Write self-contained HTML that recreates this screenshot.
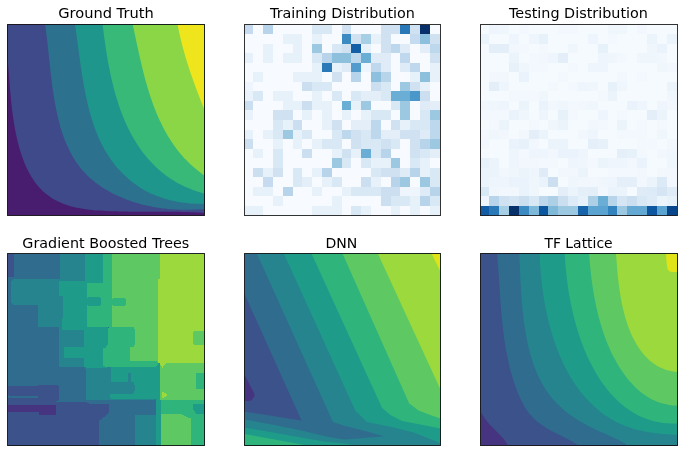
<!DOCTYPE html>
<html><head><meta charset="utf-8"><title>Model comparison</title>
<style>html,body{margin:0;padding:0;background:#fff;}body{width:684px;height:452px;overflow:hidden;}svg{display:block;}</style>
</head><body>
<svg width="684" height="452" viewBox="0 0 684 452">
<rect width="684" height="452" fill="#fff"/>
<defs><clipPath id="cgt"><rect x="7.5" y="24.5" width="197" height="191"/></clipPath><clipPath id="ctr"><rect x="244.5" y="24.5" width="196" height="191"/></clipPath><clipPath id="cte"><rect x="480.5" y="24.5" width="197" height="191"/></clipPath><clipPath id="cgbt"><rect x="7.5" y="253.5" width="197" height="192"/></clipPath><clipPath id="cdnn"><rect x="244.5" y="253.5" width="196" height="192"/></clipPath><clipPath id="ctfl"><rect x="480.5" y="253.5" width="197" height="192"/></clipPath></defs>
<g clip-path="url(#cgt)"><rect x="6.5" y="23.5" width="199" height="193" fill="#481c6e"/><path fill="#3e4a89" d="M7.5,57.5C7.54,58 7.68,59.51 7.77,60.52C7.85,61.52 7.94,62.52 8.02,63.53C8.1,64.53 8.18,65.53 8.26,66.53C8.34,67.53 8.42,68.54 8.49,69.54C8.57,70.54 8.65,71.54 8.73,72.54C8.8,73.54 8.88,74.54 8.95,75.54C9.03,76.54 9.1,77.55 9.18,78.55C9.26,79.55 9.33,80.55 9.41,81.55C9.49,82.55 9.56,83.55 9.64,84.55C9.72,85.56 9.8,86.56 9.88,87.56C9.96,88.56 10.05,89.57 10.13,90.57C10.22,91.58 10.3,92.58 10.39,93.59C10.48,94.59 10.57,95.6 10.67,96.61C10.76,97.61 10.86,98.62 10.96,99.63C11.06,100.64 11.16,101.65 11.26,102.66C11.37,103.67 11.48,104.68 11.59,105.7C11.7,106.71 11.82,107.73 11.94,108.74C12.06,109.76 12.19,110.78 12.32,111.8C12.45,112.82 12.58,113.84 12.72,114.86C12.86,115.88 13,116.91 13.15,117.93C13.3,118.96 13.46,119.99 13.62,121.02C13.78,122.05 13.95,123.08 14.12,124.11C14.29,125.15 14.47,126.18 14.65,127.22C14.84,128.26 15.03,129.3 15.23,130.34C15.43,131.37 15.63,132.41 15.84,133.45C16.05,134.49 16.27,135.53 16.5,136.57C16.73,137.6 16.96,138.64 17.2,139.67C17.45,140.71 17.7,141.74 17.96,142.77C18.22,143.79 18.48,144.82 18.76,145.84C19.04,146.86 19.32,147.88 19.61,148.9C19.91,149.91 20.21,150.92 20.52,151.92C20.84,152.92 21.16,153.92 21.49,154.91C21.82,155.91 22.17,156.89 22.52,157.87C22.87,158.85 23.23,159.82 23.61,160.78C23.98,161.75 24.36,162.7 24.76,163.65C25.15,164.6 25.56,165.54 25.98,166.46C26.4,167.39 26.82,168.31 27.27,169.22C27.71,170.13 28.16,171.03 28.62,171.92C29.09,172.8 29.57,173.68 30.06,174.54C30.55,175.41 31.05,176.26 31.56,177.1C32.08,177.94 32.61,178.76 33.15,179.58C33.69,180.39 34.25,181.19 34.81,181.97C35.38,182.76 35.97,183.53 36.56,184.28C37.16,185.04 37.77,185.78 38.39,186.5C39.02,187.22 39.66,187.93 40.31,188.62C40.97,189.31 41.64,189.99 42.32,190.64C43.01,191.3 43.71,191.93 44.42,192.55C45.14,193.17 45.87,193.78 46.61,194.36C47.35,194.95 48.11,195.51 48.88,196.06C49.65,196.61 50.44,197.15 51.23,197.66C52.03,198.18 52.84,198.67 53.66,199.15C54.48,199.63 55.31,200.1 56.16,200.54C57,200.99 57.86,201.42 58.73,201.83C59.59,202.24 60.47,202.63 61.36,203.01C62.25,203.39 63.15,203.75 64.05,204.09C64.96,204.44 65.88,204.76 66.8,205.07C67.73,205.38 68.66,205.68 69.61,205.95C70.55,206.23 71.5,206.49 72.46,206.74C73.42,206.98 74.38,207.22 75.35,207.43C76.33,207.65 77.31,207.86 78.29,208.05C79.28,208.24 80.27,208.42 81.27,208.59C82.27,208.76 83.27,208.91 84.28,209.06C85.29,209.21 86.3,209.34 87.32,209.47C88.34,209.6 89.36,209.72 90.38,209.82C91.41,209.93 92.44,210.04 93.47,210.13C94.5,210.22 95.54,210.31 96.58,210.39C97.62,210.47 98.66,210.55 99.7,210.62C100.74,210.69 101.78,210.75 102.83,210.82C103.87,210.88 104.92,210.93 105.97,210.99C107.02,211.04 108.06,211.09 109.11,211.14C110.16,211.18 111.21,211.23 112.26,211.26C113.31,211.3 114.37,211.34 115.42,211.37C116.47,211.41 117.52,211.44 118.58,211.46C119.63,211.49 120.68,211.52 121.74,211.54C122.79,211.56 123.85,211.58 124.9,211.6C125.96,211.61 127.01,211.63 128.07,211.64C129.12,211.66 130.17,211.67 131.23,211.68C132.28,211.69 133.34,211.69 134.39,211.7C135.44,211.71 136.5,211.71 137.55,211.71C138.6,211.72 139.65,211.72 140.71,211.72C141.76,211.72 142.81,211.72 143.86,211.72C144.91,211.72 145.96,211.72 147,211.72C148.05,211.72 149.1,211.72 150.14,211.72C151.19,211.72 152.24,211.71 153.28,211.71C154.32,211.71 155.36,211.71 156.4,211.71C157.44,211.71 158.48,211.71 159.52,211.71C160.56,211.71 161.59,211.71 162.63,211.71C163.66,211.71 164.69,211.71 165.72,211.71C166.75,211.72 167.78,211.72 168.8,211.73C169.83,211.73 170.85,211.74 171.87,211.75C172.89,211.76 173.91,211.77 174.93,211.78C175.94,211.8 176.96,211.81 177.97,211.83C178.98,211.84 179.99,211.86 180.99,211.88C182,211.9 183,211.93 184,211.95C185,211.98 186,212.01 186.99,212.04C187.98,212.08 188.97,212.11 189.96,212.15C190.95,212.19 191.93,212.23 192.91,212.27C193.89,212.32 194.87,212.37 195.84,212.42C196.82,212.47 197.79,212.53 198.75,212.59C199.72,212.65 200.68,212.71 201.64,212.78C202.59,212.85 204.02,212.96 204.5,213L204.5,24.5L7.5,24.5Z"/><path fill="#2c728e" d="M45,24.5C45.07,24.97 45.29,26.37 45.43,27.32C45.57,28.26 45.71,29.21 45.84,30.16C45.98,31.11 46.11,32.07 46.24,33.03C46.36,33.99 46.49,34.96 46.61,35.93C46.74,36.9 46.86,37.87 46.97,38.85C47.09,39.82 47.21,40.81 47.32,41.79C47.44,42.77 47.55,43.76 47.66,44.75C47.78,45.75 47.89,46.74 48,47.74C48.11,48.74 48.22,49.74 48.32,50.74C48.43,51.74 48.54,52.75 48.65,53.76C48.75,54.77 48.86,55.78 48.97,56.8C49.07,57.81 49.18,58.83 49.29,59.84C49.39,60.86 49.5,61.88 49.61,62.9C49.72,63.93 49.83,64.95 49.94,65.98C50.05,67 50.16,68.03 50.27,69.06C50.38,70.09 50.5,71.12 50.61,72.15C50.73,73.18 50.85,74.21 50.97,75.24C51.09,76.28 51.21,77.31 51.33,78.34C51.46,79.38 51.58,80.41 51.71,81.45C51.84,82.48 51.97,83.52 52.11,84.55C52.24,85.59 52.38,86.62 52.52,87.66C52.66,88.7 52.81,89.73 52.96,90.77C53.11,91.8 53.26,92.83 53.42,93.87C53.57,94.9 53.74,95.94 53.9,96.97C54.07,98 54.24,99.03 54.41,100.06C54.59,101.09 54.77,102.12 54.95,103.15C55.14,104.18 55.33,105.2 55.52,106.23C55.72,107.25 55.92,108.27 56.13,109.3C56.33,110.32 56.54,111.34 56.76,112.35C56.98,113.37 57.21,114.38 57.44,115.4C57.67,116.41 57.91,117.42 58.15,118.43C58.4,119.43 58.65,120.44 58.91,121.44C59.17,122.44 59.44,123.44 59.71,124.43C59.98,125.43 60.27,126.42 60.55,127.41C60.84,128.39 61.14,129.37 61.45,130.35C61.75,131.33 62.07,132.3 62.39,133.27C62.71,134.24 63.04,135.2 63.38,136.16C63.72,137.12 64.07,138.07 64.43,139.01C64.79,139.96 65.15,140.9 65.53,141.83C65.91,142.76 66.29,143.69 66.69,144.61C67.09,145.53 67.49,146.44 67.91,147.35C68.33,148.25 68.75,149.15 69.19,150.04C69.63,150.93 70.08,151.81 70.54,152.69C71,153.56 71.47,154.42 71.95,155.28C72.43,156.14 72.92,156.98 73.43,157.82C73.93,158.66 74.45,159.49 74.98,160.31C75.5,161.13 76.04,161.94 76.6,162.74C77.15,163.54 77.71,164.32 78.29,165.1C78.87,165.88 79.46,166.65 80.06,167.4C80.67,168.16 81.28,168.91 81.91,169.64C82.54,170.38 83.18,171.1 83.83,171.81C84.48,172.53 85.15,173.23 85.82,173.92C86.5,174.61 87.19,175.29 87.88,175.96C88.58,176.63 89.29,177.29 90.01,177.94C90.73,178.59 91.46,179.23 92.21,179.86C92.95,180.49 93.7,181.1 94.46,181.71C95.22,182.32 96,182.91 96.78,183.5C97.56,184.09 98.35,184.66 99.15,185.23C99.95,185.79 100.76,186.35 101.58,186.89C102.4,187.44 103.23,187.97 104.07,188.5C104.9,189.02 105.75,189.53 106.6,190.04C107.46,190.54 108.32,191.04 109.19,191.52C110.06,192 110.93,192.48 111.82,192.94C112.7,193.4 113.6,193.86 114.5,194.3C115.39,194.74 116.3,195.18 117.21,195.6C118.13,196.02 119.05,196.44 119.97,196.84C120.9,197.25 121.83,197.64 122.77,198.02C123.71,198.41 124.65,198.78 125.6,199.15C126.55,199.51 127.51,199.87 128.47,200.21C129.43,200.56 130.4,200.89 131.37,201.22C132.34,201.54 133.32,201.86 134.3,202.17C135.28,202.47 136.26,202.77 137.25,203.06C138.24,203.34 139.23,203.62 140.23,203.89C141.22,204.16 142.22,204.42 143.23,204.67C144.23,204.92 145.24,205.16 146.25,205.39C147.26,205.62 148.27,205.84 149.29,206.06C150.3,206.27 151.32,206.47 152.34,206.67C153.36,206.86 154.39,207.05 155.41,207.22C156.43,207.4 157.46,207.56 158.49,207.72C159.52,207.88 160.55,208.03 161.58,208.17C162.61,208.31 163.64,208.44 164.67,208.56C165.7,208.68 166.74,208.79 167.77,208.9C168.81,209 169.84,209.1 170.87,209.18C171.91,209.27 172.94,209.34 173.98,209.41C175.01,209.48 176.04,209.54 177.07,209.59C178.11,209.64 179.14,209.69 180.17,209.72C181.2,209.75 182.23,209.78 183.26,209.79C184.29,209.81 185.31,209.82 186.34,209.82C187.36,209.82 188.39,209.81 189.41,209.79C190.43,209.77 191.44,209.75 192.46,209.71C193.48,209.68 194.49,209.63 195.5,209.58C196.51,209.53 197.52,209.47 198.52,209.4C199.53,209.34 200.53,209.26 201.52,209.17C202.52,209.09 204,208.95 204.5,208.9L204.5,24.5Z"/><path fill="#1f968b" d="M75,24.5C75.07,24.97 75.29,26.37 75.43,27.31C75.57,28.25 75.71,29.19 75.85,30.14C75.99,31.09 76.12,32.05 76.26,33.01C76.4,33.97 76.53,34.93 76.66,35.9C76.8,36.87 76.93,37.84 77.06,38.82C77.2,39.79 77.33,40.77 77.46,41.76C77.59,42.74 77.73,43.73 77.86,44.72C77.99,45.71 78.12,46.71 78.26,47.7C78.39,48.7 78.52,49.7 78.66,50.7C78.79,51.71 78.92,52.71 79.06,53.72C79.2,54.73 79.33,55.74 79.47,56.76C79.61,57.77 79.75,58.79 79.89,59.8C80.03,60.82 80.17,61.84 80.31,62.86C80.46,63.88 80.6,64.91 80.75,65.93C80.9,66.95 81.05,67.98 81.2,69.01C81.35,70.03 81.5,71.06 81.66,72.09C81.82,73.12 81.98,74.15 82.14,75.18C82.3,76.21 82.47,77.24 82.64,78.27C82.8,79.3 82.98,80.33 83.15,81.36C83.33,82.39 83.51,83.42 83.69,84.45C83.87,85.48 84.06,86.51 84.25,87.54C84.44,88.57 84.63,89.59 84.83,90.62C85.03,91.65 85.23,92.67 85.44,93.7C85.64,94.72 85.86,95.75 86.07,96.77C86.29,97.79 86.51,98.81 86.74,99.83C86.96,100.85 87.19,101.86 87.43,102.88C87.67,103.89 87.91,104.91 88.16,105.91C88.41,106.92 88.66,107.93 88.92,108.94C89.18,109.94 89.45,110.94 89.72,111.94C89.99,112.94 90.27,113.94 90.55,114.93C90.84,115.92 91.13,116.91 91.43,117.9C91.73,118.88 92.03,119.86 92.34,120.84C92.66,121.82 92.97,122.79 93.3,123.76C93.63,124.73 93.96,125.7 94.3,126.66C94.64,127.62 94.99,128.58 95.35,129.53C95.71,130.48 96.07,131.43 96.44,132.37C96.82,133.32 97.2,134.25 97.59,135.18C97.98,136.12 98.38,137.04 98.78,137.96C99.19,138.88 99.6,139.8 100.03,140.71C100.45,141.62 100.89,142.52 101.33,143.42C101.77,144.31 102.23,145.21 102.69,146.09C103.15,146.97 103.62,147.85 104.1,148.72C104.58,149.59 105.07,150.46 105.57,151.31C106.08,152.17 106.59,153.02 107.11,153.86C107.63,154.71 108.16,155.54 108.71,156.37C109.25,157.2 109.8,158.02 110.37,158.83C110.93,159.64 111.51,160.44 112.09,161.24C112.68,162.03 113.27,162.82 113.88,163.6C114.49,164.38 115.1,165.15 115.73,165.91C116.36,166.67 116.99,167.42 117.64,168.16C118.29,168.91 118.95,169.64 119.61,170.37C120.28,171.09 120.96,171.8 121.64,172.51C122.33,173.21 123.02,173.91 123.73,174.59C124.44,175.28 125.15,175.95 125.87,176.62C126.6,177.28 127.33,177.94 128.07,178.58C128.82,179.22 129.57,179.86 130.33,180.48C131.09,181.1 131.86,181.71 132.64,182.31C133.41,182.91 134.2,183.5 135,184.07C135.79,184.65 136.6,185.22 137.41,185.77C138.22,186.32 139.04,186.86 139.87,187.39C140.7,187.92 141.54,188.44 142.38,188.94C143.22,189.44 144.08,189.94 144.94,190.41C145.8,190.89 146.67,191.36 147.54,191.81C148.42,192.26 149.3,192.7 150.19,193.13C151.09,193.56 151.98,193.97 152.89,194.37C153.8,194.77 154.71,195.15 155.63,195.53C156.55,195.9 157.48,196.26 158.41,196.61C159.35,196.95 160.29,197.28 161.24,197.61C162.18,197.93 163.14,198.23 164.1,198.53C165.06,198.82 166.03,199.1 167,199.37C167.98,199.64 168.96,199.9 169.94,200.14C170.93,200.38 171.92,200.62 172.92,200.83C173.92,201.05 174.93,201.26 175.94,201.45C176.95,201.65 177.96,201.83 178.99,202C180.01,202.17 181.04,202.33 182.07,202.47C183.1,202.62 184.14,202.75 185.18,202.87C186.23,202.99 187.28,203.1 188.33,203.2C189.39,203.3 190.45,203.38 191.51,203.46C192.57,203.53 193.64,203.59 194.72,203.64C195.79,203.7 196.87,203.73 197.95,203.76C199.04,203.79 200.12,203.81 201.22,203.81C202.31,203.82 203.95,203.8 204.5,203.8L204.5,24.5Z"/><path fill="#38b977" d="M102.6,24.5C102.66,24.98 102.83,26.44 102.95,27.41C103.07,28.38 103.2,29.36 103.32,30.34C103.44,31.32 103.57,32.3 103.7,33.29C103.82,34.27 103.95,35.26 104.08,36.25C104.22,37.24 104.35,38.24 104.49,39.23C104.62,40.23 104.76,41.23 104.9,42.23C105.05,43.23 105.19,44.23 105.34,45.24C105.48,46.24 105.63,47.25 105.79,48.26C105.94,49.27 106.1,50.28 106.26,51.29C106.42,52.3 106.58,53.31 106.74,54.32C106.91,55.34 107.08,56.35 107.25,57.37C107.42,58.38 107.6,59.4 107.78,60.42C107.96,61.44 108.14,62.45 108.33,63.47C108.52,64.49 108.71,65.51 108.91,66.53C109.1,67.55 109.3,68.57 109.51,69.58C109.71,70.6 109.92,71.62 110.13,72.64C110.34,73.66 110.56,74.68 110.78,75.69C111,76.71 111.23,77.73 111.46,78.74C111.69,79.76 111.93,80.77 112.17,81.79C112.41,82.8 112.66,83.81 112.91,84.82C113.16,85.83 113.41,86.84 113.67,87.85C113.94,88.86 114.2,89.87 114.47,90.87C114.75,91.87 115.02,92.88 115.31,93.88C115.59,94.88 115.88,95.88 116.18,96.87C116.47,97.87 116.77,98.86 117.08,99.85C117.38,100.84 117.7,101.83 118.02,102.81C118.34,103.8 118.66,104.78 118.99,105.76C119.32,106.74 119.66,107.71 120.01,108.69C120.35,109.66 120.7,110.63 121.06,111.59C121.42,112.56 121.78,113.52 122.15,114.48C122.53,115.43 122.9,116.39 123.29,117.34C123.67,118.29 124.07,119.23 124.47,120.17C124.87,121.11 125.27,122.05 125.69,122.98C126.1,123.91 126.53,124.84 126.96,125.76C127.38,126.68 127.82,127.6 128.27,128.51C128.71,129.42 129.17,130.33 129.63,131.23C130.09,132.13 130.56,133.03 131.03,133.92C131.51,134.81 132,135.69 132.49,136.57C132.98,137.45 133.48,138.32 134,139.19C134.51,140.05 135.02,140.91 135.55,141.77C136.08,142.62 136.62,143.47 137.16,144.31C137.71,145.15 138.26,145.98 138.82,146.81C139.38,147.63 139.95,148.45 140.53,149.26C141.11,150.08 141.7,150.88 142.3,151.68C142.9,152.48 143.5,153.27 144.12,154.05C144.73,154.83 145.36,155.61 145.99,156.37C146.62,157.14 147.26,157.9 147.91,158.65C148.57,159.4 149.23,160.14 149.89,160.87C150.56,161.61 151.24,162.33 151.93,163.05C152.61,163.77 153.31,164.47 154.02,165.17C154.72,165.87 155.43,166.56 156.16,167.24C156.88,167.92 157.61,168.59 158.36,169.25C159.1,169.91 159.85,170.57 160.61,171.21C161.37,171.85 162.14,172.48 162.92,173.11C163.7,173.73 164.49,174.34 165.29,174.94C166.08,175.54 166.89,176.14 167.71,176.72C168.53,177.3 169.35,177.87 170.19,178.43C171.02,178.99 171.87,179.54 172.72,180.08C173.58,180.62 174.44,181.14 175.32,181.66C176.19,182.18 177.08,182.68 177.97,183.17C178.87,183.67 179.77,184.15 180.68,184.62C181.6,185.09 182.52,185.55 183.45,185.99C184.38,186.44 185.33,186.87 186.28,187.29C187.23,187.71 188.19,188.12 189.17,188.52C190.14,188.92 191.12,189.3 192.11,189.67C193.11,190.04 194.11,190.4 195.12,190.75C196.13,191.09 197.16,191.43 198.19,191.74C199.22,192.06 200.26,192.37 201.32,192.66C202.37,192.95 203.97,193.36 204.5,193.5L204.5,24.5Z"/><path fill="#8bd646" d="M132.7,24.5C132.81,24.99 133.12,26.45 133.33,27.43C133.54,28.41 133.76,29.39 133.97,30.37C134.18,31.36 134.39,32.34 134.6,33.33C134.81,34.32 135.02,35.31 135.23,36.3C135.44,37.29 135.65,38.28 135.87,39.28C136.08,40.27 136.29,41.27 136.5,42.27C136.72,43.26 136.93,44.26 137.15,45.26C137.36,46.26 137.58,47.26 137.8,48.27C138.02,49.27 138.24,50.27 138.46,51.27C138.68,52.28 138.9,53.28 139.13,54.29C139.35,55.29 139.58,56.3 139.81,57.3C140.03,58.31 140.26,59.31 140.5,60.32C140.73,61.33 140.97,62.33 141.2,63.34C141.44,64.34 141.68,65.35 141.92,66.36C142.17,67.36 142.41,68.37 142.66,69.37C142.91,70.37 143.16,71.38 143.42,72.38C143.67,73.38 143.93,74.39 144.19,75.39C144.45,76.39 144.72,77.39 144.98,78.39C145.25,79.39 145.53,80.39 145.8,81.38C146.08,82.38 146.36,83.37 146.64,84.37C146.93,85.36 147.22,86.35 147.51,87.34C147.8,88.33 148.1,89.32 148.4,90.31C148.7,91.29 149.01,92.28 149.32,93.26C149.63,94.24 149.95,95.22 150.27,96.2C150.59,97.18 150.92,98.15 151.25,99.12C151.58,100.09 151.92,101.06 152.26,102.03C152.6,103 152.95,103.96 153.31,104.92C153.66,105.88 154.02,106.84 154.39,107.79C154.75,108.75 155.12,109.7 155.5,110.64C155.88,111.59 156.27,112.54 156.66,113.48C157.05,114.42 157.45,115.35 157.85,116.28C158.25,117.22 158.67,118.14 159.08,119.07C159.5,119.99 159.93,120.91 160.36,121.83C160.79,122.74 161.23,123.66 161.68,124.56C162.13,125.47 162.58,126.37 163.04,127.27C163.5,128.16 163.97,129.06 164.45,129.95C164.93,130.83 165.41,131.72 165.91,132.59C166.4,133.47 166.9,134.34 167.41,135.21C167.93,136.07 168.44,136.94 168.97,137.79C169.5,138.65 170.03,139.5 170.58,140.34C171.12,141.19 171.68,142.02 172.24,142.86C172.8,143.69 173.38,144.51 173.96,145.33C174.54,146.15 175.13,146.97 175.73,147.77C176.33,148.58 176.94,149.38 177.56,150.18C178.18,150.97 178.81,151.76 179.45,152.54C180.09,153.32 180.74,154.09 181.4,154.86C182.05,155.62 182.72,156.38 183.41,157.13C184.09,157.89 184.78,158.63 185.48,159.37C186.18,160.1 186.89,160.83 187.62,161.56C188.34,162.28 189.07,162.99 189.82,163.7C190.57,164.4 191.32,165.1 192.09,165.79C192.86,166.48 193.64,167.16 194.43,167.84C195.22,168.51 196.02,169.17 196.84,169.83C197.65,170.49 198.48,171.13 199.32,171.77C200.16,172.41 201.01,173.04 201.87,173.66C202.74,174.28 204.06,175.19 204.5,175.5L204.5,24.5Z"/><path fill="#efe51c" d="M177.6,24.5C177.7,25.03 178,26.6 178.21,27.65C178.42,28.7 178.63,29.75 178.85,30.79C179.07,31.84 179.29,32.88 179.53,33.93C179.76,34.97 179.99,36.01 180.23,37.05C180.48,38.1 180.72,39.14 180.98,40.17C181.23,41.21 181.48,42.25 181.75,43.29C182.01,44.32 182.28,45.36 182.55,46.39C182.82,47.42 183.1,48.45 183.38,49.49C183.66,50.52 183.95,51.55 184.24,52.57C184.53,53.6 184.82,54.63 185.12,55.66C185.42,56.68 185.73,57.71 186.03,58.73C186.34,59.75 186.65,60.78 186.97,61.8C187.29,62.82 187.61,63.84 187.93,64.86C188.25,65.88 188.58,66.9 188.91,67.91C189.24,68.93 189.58,69.95 189.92,70.96C190.25,71.97 190.6,72.99 190.94,74C191.29,75.01 191.64,76.02 191.99,77.03C192.34,78.04 192.69,79.05 193.05,80.06C193.41,81.07 193.77,82.08 194.13,83.08C194.5,84.09 194.86,85.09 195.23,86.1C195.6,87.1 195.97,88.1 196.34,89.11C196.72,90.11 197.1,91.11 197.47,92.11C197.85,93.11 198.23,94.11 198.62,95.1C199,96.1 199.38,97.1 199.77,98.09C200.16,99.09 200.55,100.09 200.94,101.08C201.33,102.07 201.72,103.07 202.12,104.06C202.51,105.05 202.91,106.04 203.3,107.03C203.7,108.02 204.3,109.51 204.5,110L204.5,24.5Z"/></g>
<g shape-rendering="crispEdges" clip-path="url(#ctr)"><rect x="243.5" y="24.5" width="196" height="191" fill="#f7fbff"/><rect x="243.5" y="24.5" width="9.82" height="9.57" fill="#c6dbef"/><rect x="263.1" y="24.5" width="9.82" height="9.57" fill="#b7d4ea"/><rect x="312.1" y="24.5" width="9.82" height="9.57" fill="#d9e8f5"/><rect x="321.9" y="24.5" width="9.82" height="9.57" fill="#d9e8f5"/><rect x="341.5" y="24.5" width="9.82" height="9.57" fill="#d0e1f2"/><rect x="380.7" y="24.5" width="9.82" height="9.57" fill="#d0e1f2"/><rect x="390.5" y="24.5" width="9.82" height="9.57" fill="#d0e1f2"/><rect x="400.3" y="24.5" width="9.82" height="9.57" fill="#2979b9"/><rect x="410.1" y="24.5" width="9.82" height="9.57" fill="#d0e1f2"/><rect x="419.9" y="24.5" width="9.82" height="9.57" fill="#08306b"/><rect x="282.7" y="34.05" width="9.82" height="9.57" fill="#e7f1fa"/><rect x="292.5" y="34.05" width="9.82" height="9.57" fill="#e7f1fa"/><rect x="312.1" y="34.05" width="9.82" height="9.57" fill="#e7f1fa"/><rect x="341.5" y="34.05" width="9.82" height="9.57" fill="#3b8bc2"/><rect x="351.3" y="34.05" width="9.82" height="9.57" fill="#d0e1f2"/><rect x="361.1" y="34.05" width="9.82" height="9.57" fill="#a6cee4"/><rect x="370.9" y="34.05" width="9.82" height="9.57" fill="#e7f1fa"/><rect x="380.7" y="34.05" width="9.82" height="9.57" fill="#d0e1f2"/><rect x="410.1" y="34.05" width="9.82" height="9.57" fill="#c6dbef"/><rect x="419.9" y="34.05" width="9.82" height="9.57" fill="#8cc0dd"/><rect x="429.7" y="34.05" width="9.82" height="9.57" fill="#d0e1f2"/><rect x="263.1" y="43.6" width="9.82" height="9.57" fill="#e7f1fa"/><rect x="292.5" y="43.6" width="9.82" height="9.57" fill="#e7f1fa"/><rect x="312.1" y="43.6" width="9.82" height="9.57" fill="#9cc9e1"/><rect x="331.7" y="43.6" width="9.82" height="9.57" fill="#d9e8f5"/><rect x="341.5" y="43.6" width="9.82" height="9.57" fill="#d0e1f2"/><rect x="351.3" y="43.6" width="9.82" height="9.57" fill="#135fa7"/><rect x="361.1" y="43.6" width="9.82" height="9.57" fill="#e7f1fa"/><rect x="380.7" y="43.6" width="9.82" height="9.57" fill="#d0e1f2"/><rect x="390.5" y="43.6" width="9.82" height="9.57" fill="#bdd7ec"/><rect x="400.3" y="43.6" width="9.82" height="9.57" fill="#dfecf7"/><rect x="419.9" y="43.6" width="9.82" height="9.57" fill="#e3eef9"/><rect x="429.7" y="43.6" width="9.82" height="9.57" fill="#bdd7ec"/><rect x="243.5" y="53.15" width="9.82" height="9.57" fill="#e7f1fa"/><rect x="263.1" y="53.15" width="9.82" height="9.57" fill="#e7f1fa"/><rect x="282.7" y="53.15" width="9.82" height="9.57" fill="#e7f1fa"/><rect x="292.5" y="53.15" width="9.82" height="9.57" fill="#e7f1fa"/><rect x="312.1" y="53.15" width="9.82" height="9.57" fill="#d9e8f5"/><rect x="321.9" y="53.15" width="9.82" height="9.57" fill="#b7d4ea"/><rect x="331.7" y="53.15" width="9.82" height="9.57" fill="#8cc0dd"/><rect x="341.5" y="53.15" width="9.82" height="9.57" fill="#8cc0dd"/><rect x="351.3" y="53.15" width="9.82" height="9.57" fill="#bdd7ec"/><rect x="361.1" y="53.15" width="9.82" height="9.57" fill="#6aaed6"/><rect x="370.9" y="53.15" width="9.82" height="9.57" fill="#dfecf7"/><rect x="380.7" y="53.15" width="9.82" height="9.57" fill="#dfecf7"/><rect x="400.3" y="53.15" width="9.82" height="9.57" fill="#bfd8ed"/><rect x="429.7" y="53.15" width="9.82" height="9.57" fill="#d0e1f2"/><rect x="312.1" y="62.7" width="9.82" height="9.57" fill="#e7f1fa"/><rect x="321.9" y="62.7" width="9.82" height="9.57" fill="#2979b9"/><rect x="331.7" y="62.7" width="9.82" height="9.57" fill="#e7f1fa"/><rect x="341.5" y="62.7" width="9.82" height="9.57" fill="#dfecf7"/><rect x="351.3" y="62.7" width="9.82" height="9.57" fill="#519ccc"/><rect x="361.1" y="62.7" width="9.82" height="9.57" fill="#eef5fc"/><rect x="370.9" y="62.7" width="9.82" height="9.57" fill="#bfd8ed"/><rect x="380.7" y="62.7" width="9.82" height="9.57" fill="#dfecf7"/><rect x="400.3" y="62.7" width="9.82" height="9.57" fill="#dfecf7"/><rect x="410.1" y="62.7" width="9.82" height="9.57" fill="#bfd8ed"/><rect x="429.7" y="62.7" width="9.82" height="9.57" fill="#e7f1fa"/><rect x="253.3" y="72.25" width="9.82" height="9.57" fill="#e7f1fa"/><rect x="292.5" y="72.25" width="9.82" height="9.57" fill="#e7f1fa"/><rect x="302.3" y="72.25" width="9.82" height="9.57" fill="#e7f1fa"/><rect x="312.1" y="72.25" width="9.82" height="9.57" fill="#e7f1fa"/><rect x="331.7" y="72.25" width="9.82" height="9.57" fill="#d0e1f2"/><rect x="351.3" y="72.25" width="9.82" height="9.57" fill="#b7d4ea"/><rect x="370.9" y="72.25" width="9.82" height="9.57" fill="#8cc0dd"/><rect x="380.7" y="72.25" width="9.82" height="9.57" fill="#b7d4ea"/><rect x="410.1" y="72.25" width="9.82" height="9.57" fill="#e7f1fa"/><rect x="419.9" y="72.25" width="9.82" height="9.57" fill="#8cc0dd"/><rect x="429.7" y="72.25" width="9.82" height="9.57" fill="#e7f1fa"/><rect x="243.5" y="81.8" width="9.82" height="9.57" fill="#eef5fc"/><rect x="302.3" y="81.8" width="9.82" height="9.57" fill="#ccdff1"/><rect x="312.1" y="81.8" width="9.82" height="9.57" fill="#d9e8f5"/><rect x="321.9" y="81.8" width="9.82" height="9.57" fill="#d9e8f5"/><rect x="370.9" y="81.8" width="9.82" height="9.57" fill="#ccdff1"/><rect x="380.7" y="81.8" width="9.82" height="9.57" fill="#d9e8f5"/><rect x="400.3" y="81.8" width="9.82" height="9.57" fill="#9cc9e1"/><rect x="410.1" y="81.8" width="9.82" height="9.57" fill="#d0e1f2"/><rect x="419.9" y="81.8" width="9.82" height="9.57" fill="#e7f1fa"/><rect x="243.5" y="91.35" width="9.82" height="9.57" fill="#eaf2fb"/><rect x="253.3" y="91.35" width="9.82" height="9.57" fill="#d9e8f5"/><rect x="272.9" y="91.35" width="9.82" height="9.57" fill="#e7f1fa"/><rect x="282.7" y="91.35" width="9.82" height="9.57" fill="#e7f1fa"/><rect x="312.1" y="91.35" width="9.82" height="9.57" fill="#e7f1fa"/><rect x="331.7" y="91.35" width="9.82" height="9.57" fill="#d9e8f5"/><rect x="351.3" y="91.35" width="9.82" height="9.57" fill="#d9e8f5"/><rect x="361.1" y="91.35" width="9.82" height="9.57" fill="#e3eef9"/><rect x="370.9" y="91.35" width="9.82" height="9.57" fill="#e3eef9"/><rect x="380.7" y="91.35" width="9.82" height="9.57" fill="#d9e8f5"/><rect x="390.5" y="91.35" width="9.82" height="9.57" fill="#6aaed6"/><rect x="400.3" y="91.35" width="9.82" height="9.57" fill="#6aaed6"/><rect x="410.1" y="91.35" width="9.82" height="9.57" fill="#4a98c9"/><rect x="419.9" y="91.35" width="9.82" height="9.57" fill="#ccdff1"/><rect x="243.5" y="100.9" width="9.82" height="9.57" fill="#ccdff1"/><rect x="282.7" y="100.9" width="9.82" height="9.57" fill="#e7f1fa"/><rect x="292.5" y="100.9" width="9.82" height="9.57" fill="#e7f1fa"/><rect x="302.3" y="100.9" width="9.82" height="9.57" fill="#ccdff1"/><rect x="312.1" y="100.9" width="9.82" height="9.57" fill="#e7f1fa"/><rect x="321.9" y="100.9" width="9.82" height="9.57" fill="#e7f1fa"/><rect x="341.5" y="100.9" width="9.82" height="9.57" fill="#6aaed6"/><rect x="351.3" y="100.9" width="9.82" height="9.57" fill="#e7f1fa"/><rect x="361.1" y="100.9" width="9.82" height="9.57" fill="#9cc9e1"/><rect x="390.5" y="100.9" width="9.82" height="9.57" fill="#d9e8f5"/><rect x="400.3" y="100.9" width="9.82" height="9.57" fill="#9cc9e1"/><rect x="419.9" y="100.9" width="9.82" height="9.57" fill="#dfecf7"/><rect x="429.7" y="100.9" width="9.82" height="9.57" fill="#e3eef9"/><rect x="243.5" y="110.45" width="9.82" height="9.57" fill="#eaf2fb"/><rect x="272.9" y="110.45" width="9.82" height="9.57" fill="#d0e1f2"/><rect x="282.7" y="110.45" width="9.82" height="9.57" fill="#d0e1f2"/><rect x="302.3" y="110.45" width="9.82" height="9.57" fill="#e7f1fa"/><rect x="321.9" y="110.45" width="9.82" height="9.57" fill="#e7f1fa"/><rect x="341.5" y="110.45" width="9.82" height="9.57" fill="#e7f1fa"/><rect x="361.1" y="110.45" width="9.82" height="9.57" fill="#e7f1fa"/><rect x="370.9" y="110.45" width="9.82" height="9.57" fill="#d9e8f5"/><rect x="380.7" y="110.45" width="9.82" height="9.57" fill="#d9e8f5"/><rect x="400.3" y="110.45" width="9.82" height="9.57" fill="#9cc9e1"/><rect x="419.9" y="110.45" width="9.82" height="9.57" fill="#d9e8f5"/><rect x="429.7" y="110.45" width="9.82" height="9.57" fill="#9cc9e1"/><rect x="272.9" y="120" width="9.82" height="9.57" fill="#d9e8f5"/><rect x="282.7" y="120" width="9.82" height="9.57" fill="#e7f1fa"/><rect x="292.5" y="120" width="9.82" height="9.57" fill="#ccdff1"/><rect x="321.9" y="120" width="9.82" height="9.57" fill="#e7f1fa"/><rect x="331.7" y="120" width="9.82" height="9.57" fill="#d0e1f2"/><rect x="351.3" y="120" width="9.82" height="9.57" fill="#e3eef9"/><rect x="361.1" y="120" width="9.82" height="9.57" fill="#e3eef9"/><rect x="370.9" y="120" width="9.82" height="9.57" fill="#bdd7ec"/><rect x="390.5" y="120" width="9.82" height="9.57" fill="#d0e1f2"/><rect x="400.3" y="120" width="9.82" height="9.57" fill="#e7f1fa"/><rect x="410.1" y="120" width="9.82" height="9.57" fill="#d9e8f5"/><rect x="419.9" y="120" width="9.82" height="9.57" fill="#d9e8f5"/><rect x="429.7" y="120" width="9.82" height="9.57" fill="#bdd7ec"/><rect x="243.5" y="129.55" width="9.82" height="9.57" fill="#e7f1fa"/><rect x="263.1" y="129.55" width="9.82" height="9.57" fill="#e7f1fa"/><rect x="272.9" y="129.55" width="9.82" height="9.57" fill="#d9e8f5"/><rect x="282.7" y="129.55" width="9.82" height="9.57" fill="#9cc9e1"/><rect x="292.5" y="129.55" width="9.82" height="9.57" fill="#e7f1fa"/><rect x="302.3" y="129.55" width="9.82" height="9.57" fill="#d9e8f5"/><rect x="331.7" y="129.55" width="9.82" height="9.57" fill="#d9e8f5"/><rect x="341.5" y="129.55" width="9.82" height="9.57" fill="#bdd7ec"/><rect x="351.3" y="129.55" width="9.82" height="9.57" fill="#d0e1f2"/><rect x="361.1" y="129.55" width="9.82" height="9.57" fill="#d9e8f5"/><rect x="370.9" y="129.55" width="9.82" height="9.57" fill="#bdd7ec"/><rect x="380.7" y="129.55" width="9.82" height="9.57" fill="#e3eef9"/><rect x="390.5" y="129.55" width="9.82" height="9.57" fill="#e3eef9"/><rect x="400.3" y="129.55" width="9.82" height="9.57" fill="#d0e1f2"/><rect x="410.1" y="129.55" width="9.82" height="9.57" fill="#d0e1f2"/><rect x="419.9" y="129.55" width="9.82" height="9.57" fill="#dfecf7"/><rect x="429.7" y="129.55" width="9.82" height="9.57" fill="#bdd7ec"/><rect x="243.5" y="139.1" width="9.82" height="9.57" fill="#ccdff1"/><rect x="272.9" y="139.1" width="9.82" height="9.57" fill="#e7f1fa"/><rect x="292.5" y="139.1" width="9.82" height="9.57" fill="#e7f1fa"/><rect x="312.1" y="139.1" width="9.82" height="9.57" fill="#e7f1fa"/><rect x="321.9" y="139.1" width="9.82" height="9.57" fill="#d9e8f5"/><rect x="331.7" y="139.1" width="9.82" height="9.57" fill="#d9e8f5"/><rect x="351.3" y="139.1" width="9.82" height="9.57" fill="#d0e1f2"/><rect x="361.1" y="139.1" width="9.82" height="9.57" fill="#d9e8f5"/><rect x="370.9" y="139.1" width="9.82" height="9.57" fill="#d9e8f5"/><rect x="380.7" y="139.1" width="9.82" height="9.57" fill="#d0e1f2"/><rect x="390.5" y="139.1" width="9.82" height="9.57" fill="#d9e8f5"/><rect x="410.1" y="139.1" width="9.82" height="9.57" fill="#d0e1f2"/><rect x="419.9" y="139.1" width="9.82" height="9.57" fill="#b7d4ea"/><rect x="429.7" y="139.1" width="9.82" height="9.57" fill="#9cc9e1"/><rect x="253.3" y="148.65" width="9.82" height="9.57" fill="#e7f1fa"/><rect x="272.9" y="148.65" width="9.82" height="9.57" fill="#d9e8f5"/><rect x="302.3" y="148.65" width="9.82" height="9.57" fill="#ccdff1"/><rect x="331.7" y="148.65" width="9.82" height="9.57" fill="#e7f1fa"/><rect x="341.5" y="148.65" width="9.82" height="9.57" fill="#d0e1f2"/><rect x="351.3" y="148.65" width="9.82" height="9.57" fill="#e7f1fa"/><rect x="361.1" y="148.65" width="9.82" height="9.57" fill="#6aaed6"/><rect x="370.9" y="148.65" width="9.82" height="9.57" fill="#d9e8f5"/><rect x="380.7" y="148.65" width="9.82" height="9.57" fill="#b7d4ea"/><rect x="410.1" y="148.65" width="9.82" height="9.57" fill="#d0e1f2"/><rect x="419.9" y="148.65" width="9.82" height="9.57" fill="#d9e8f5"/><rect x="429.7" y="148.65" width="9.82" height="9.57" fill="#e3eef9"/><rect x="272.9" y="158.2" width="9.82" height="9.57" fill="#d9e8f5"/><rect x="331.7" y="158.2" width="9.82" height="9.57" fill="#9cc9e1"/><rect x="341.5" y="158.2" width="9.82" height="9.57" fill="#d9e8f5"/><rect x="361.1" y="158.2" width="9.82" height="9.57" fill="#d9e8f5"/><rect x="370.9" y="158.2" width="9.82" height="9.57" fill="#e7f1fa"/><rect x="380.7" y="158.2" width="9.82" height="9.57" fill="#e7f1fa"/><rect x="390.5" y="158.2" width="9.82" height="9.57" fill="#9cc9e1"/><rect x="410.1" y="158.2" width="9.82" height="9.57" fill="#d9e8f5"/><rect x="419.9" y="158.2" width="9.82" height="9.57" fill="#e7f1fa"/><rect x="253.3" y="167.75" width="9.82" height="9.57" fill="#ccdff1"/><rect x="263.1" y="167.75" width="9.82" height="9.57" fill="#e7f1fa"/><rect x="272.9" y="167.75" width="9.82" height="9.57" fill="#d0e1f2"/><rect x="292.5" y="167.75" width="9.82" height="9.57" fill="#d9e8f5"/><rect x="312.1" y="167.75" width="9.82" height="9.57" fill="#e7f1fa"/><rect x="321.9" y="167.75" width="9.82" height="9.57" fill="#b7d4ea"/><rect x="370.9" y="167.75" width="9.82" height="9.57" fill="#d9e8f5"/><rect x="380.7" y="167.75" width="9.82" height="9.57" fill="#d0e1f2"/><rect x="390.5" y="167.75" width="9.82" height="9.57" fill="#d0e1f2"/><rect x="400.3" y="167.75" width="9.82" height="9.57" fill="#dfecf7"/><rect x="410.1" y="167.75" width="9.82" height="9.57" fill="#b7d4ea"/><rect x="419.9" y="167.75" width="9.82" height="9.57" fill="#e7f1fa"/><rect x="429.7" y="167.75" width="9.82" height="9.57" fill="#d9e8f5"/><rect x="263.1" y="177.3" width="9.82" height="9.57" fill="#c6dbef"/><rect x="292.5" y="177.3" width="9.82" height="9.57" fill="#d9e8f5"/><rect x="302.3" y="177.3" width="9.82" height="9.57" fill="#e3eef9"/><rect x="321.9" y="177.3" width="9.82" height="9.57" fill="#e7f1fa"/><rect x="331.7" y="177.3" width="9.82" height="9.57" fill="#d9e8f5"/><rect x="361.1" y="177.3" width="9.82" height="9.57" fill="#ccdff1"/><rect x="370.9" y="177.3" width="9.82" height="9.57" fill="#e7f1fa"/><rect x="390.5" y="177.3" width="9.82" height="9.57" fill="#b7d4ea"/><rect x="400.3" y="177.3" width="9.82" height="9.57" fill="#9cc9e1"/><rect x="419.9" y="177.3" width="9.82" height="9.57" fill="#9cc9e1"/><rect x="429.7" y="177.3" width="9.82" height="9.57" fill="#d9e8f5"/><rect x="253.3" y="186.85" width="9.82" height="9.57" fill="#e7f1fa"/><rect x="263.1" y="186.85" width="9.82" height="9.57" fill="#e7f1fa"/><rect x="282.7" y="186.85" width="9.82" height="9.57" fill="#b7d4ea"/><rect x="312.1" y="186.85" width="9.82" height="9.57" fill="#e7f1fa"/><rect x="341.5" y="186.85" width="9.82" height="9.57" fill="#e7f1fa"/><rect x="351.3" y="186.85" width="9.82" height="9.57" fill="#d9e8f5"/><rect x="361.1" y="186.85" width="9.82" height="9.57" fill="#d9e8f5"/><rect x="370.9" y="186.85" width="9.82" height="9.57" fill="#d9e8f5"/><rect x="380.7" y="186.85" width="9.82" height="9.57" fill="#ccdff1"/><rect x="390.5" y="186.85" width="9.82" height="9.57" fill="#ccdff1"/><rect x="400.3" y="186.85" width="9.82" height="9.57" fill="#eef5fc"/><rect x="410.1" y="186.85" width="9.82" height="9.57" fill="#eef5fc"/><rect x="419.9" y="186.85" width="9.82" height="9.57" fill="#dfecf7"/><rect x="429.7" y="186.85" width="9.82" height="9.57" fill="#b7d4ea"/><rect x="272.9" y="196.4" width="9.82" height="9.57" fill="#e7f1fa"/><rect x="331.7" y="196.4" width="9.82" height="9.57" fill="#e7f1fa"/><rect x="380.7" y="196.4" width="9.82" height="9.57" fill="#ccdff1"/><rect x="390.5" y="196.4" width="9.82" height="9.57" fill="#d9e8f5"/><rect x="400.3" y="196.4" width="9.82" height="9.57" fill="#d9e8f5"/><rect x="410.1" y="196.4" width="9.82" height="9.57" fill="#e7f1fa"/><rect x="419.9" y="196.4" width="9.82" height="9.57" fill="#b7d4ea"/><rect x="429.7" y="196.4" width="9.82" height="9.57" fill="#d9e8f5"/><rect x="243.5" y="205.95" width="9.82" height="9.57" fill="#e7f1fa"/><rect x="253.3" y="205.95" width="9.82" height="9.57" fill="#e7f1fa"/><rect x="312.1" y="205.95" width="9.82" height="9.57" fill="#e7f1fa"/><rect x="321.9" y="205.95" width="9.82" height="9.57" fill="#e7f1fa"/><rect x="331.7" y="205.95" width="9.82" height="9.57" fill="#e7f1fa"/><rect x="351.3" y="205.95" width="9.82" height="9.57" fill="#d9e8f5"/><rect x="361.1" y="205.95" width="9.82" height="9.57" fill="#e7f1fa"/><rect x="390.5" y="205.95" width="9.82" height="9.57" fill="#e7f1fa"/><rect x="410.1" y="205.95" width="9.82" height="9.57" fill="#e7f1fa"/><rect x="429.7" y="205.95" width="9.82" height="9.57" fill="#e7f1fa"/></g>
<g shape-rendering="crispEdges" clip-path="url(#cte)"><rect x="479.5" y="24.5" width="197" height="191" fill="#f7fbff"/><rect x="479.5" y="24.5" width="9.87" height="9.57" fill="#f5fafe"/><rect x="489.35" y="24.5" width="9.87" height="9.57" fill="#eef5fc"/><rect x="499.2" y="24.5" width="9.87" height="9.57" fill="#eff6fc"/><rect x="509.05" y="24.5" width="9.87" height="9.57" fill="#f5fafe"/><rect x="518.9" y="24.5" width="9.87" height="9.57" fill="#f3f8fe"/><rect x="528.75" y="24.5" width="9.87" height="9.57" fill="#f5fafe"/><rect x="538.6" y="24.5" width="9.87" height="9.57" fill="#f5fafe"/><rect x="548.45" y="24.5" width="9.87" height="9.57" fill="#f5fafe"/><rect x="558.3" y="24.5" width="9.87" height="9.57" fill="#f3f8fe"/><rect x="568.15" y="24.5" width="9.87" height="9.57" fill="#f3f8fe"/><rect x="578" y="24.5" width="9.87" height="9.57" fill="#f5fafe"/><rect x="587.85" y="24.5" width="9.87" height="9.57" fill="#f5fafe"/><rect x="597.7" y="24.5" width="9.87" height="9.57" fill="#f5fafe"/><rect x="607.55" y="24.5" width="9.87" height="9.57" fill="#eff6fc"/><rect x="617.4" y="24.5" width="9.87" height="9.57" fill="#eff6fc"/><rect x="627.25" y="24.5" width="9.87" height="9.57" fill="#f5fafe"/><rect x="637.1" y="24.5" width="9.87" height="9.57" fill="#f2f7fd"/><rect x="646.95" y="24.5" width="9.87" height="9.57" fill="#f5fafe"/><rect x="656.8" y="24.5" width="9.87" height="9.57" fill="#f5fafe"/><rect x="666.65" y="24.5" width="9.87" height="9.57" fill="#f5fafe"/><rect x="479.5" y="34.05" width="9.87" height="9.57" fill="#ebf3fb"/><rect x="489.35" y="34.05" width="9.87" height="9.57" fill="#f5fafe"/><rect x="499.2" y="34.05" width="9.87" height="9.57" fill="#f5fafe"/><rect x="509.05" y="34.05" width="9.87" height="9.57" fill="#eef5fc"/><rect x="518.9" y="34.05" width="9.87" height="9.57" fill="#f5fafe"/><rect x="528.75" y="34.05" width="9.87" height="9.57" fill="#eef5fc"/><rect x="538.6" y="34.05" width="9.87" height="9.57" fill="#e7f1fa"/><rect x="548.45" y="34.05" width="9.87" height="9.57" fill="#f5fafe"/><rect x="558.3" y="34.05" width="9.87" height="9.57" fill="#f5fafe"/><rect x="568.15" y="34.05" width="9.87" height="9.57" fill="#f5fafe"/><rect x="578" y="34.05" width="9.87" height="9.57" fill="#f5fafe"/><rect x="587.85" y="34.05" width="9.87" height="9.57" fill="#eef5fc"/><rect x="597.7" y="34.05" width="9.87" height="9.57" fill="#f5fafe"/><rect x="607.55" y="34.05" width="9.87" height="9.57" fill="#f3f8fe"/><rect x="617.4" y="34.05" width="9.87" height="9.57" fill="#f5fafe"/><rect x="627.25" y="34.05" width="9.87" height="9.57" fill="#f5fafe"/><rect x="637.1" y="34.05" width="9.87" height="9.57" fill="#f5fafe"/><rect x="646.95" y="34.05" width="9.87" height="9.57" fill="#ebf3fb"/><rect x="656.8" y="34.05" width="9.87" height="9.57" fill="#f5fafe"/><rect x="666.65" y="34.05" width="9.87" height="9.57" fill="#ebf3fb"/><rect x="479.5" y="43.6" width="9.87" height="9.57" fill="#f5fafe"/><rect x="489.35" y="43.6" width="9.87" height="9.57" fill="#e3eef9"/><rect x="499.2" y="43.6" width="9.87" height="9.57" fill="#e3eef9"/><rect x="509.05" y="43.6" width="9.87" height="9.57" fill="#f2f7fd"/><rect x="518.9" y="43.6" width="9.87" height="9.57" fill="#f3f8fe"/><rect x="528.75" y="43.6" width="9.87" height="9.57" fill="#f5fafe"/><rect x="538.6" y="43.6" width="9.87" height="9.57" fill="#f3f8fe"/><rect x="548.45" y="43.6" width="9.87" height="9.57" fill="#f5fafe"/><rect x="558.3" y="43.6" width="9.87" height="9.57" fill="#f5fafe"/><rect x="568.15" y="43.6" width="9.87" height="9.57" fill="#eff6fc"/><rect x="578" y="43.6" width="9.87" height="9.57" fill="#f5fafe"/><rect x="587.85" y="43.6" width="9.87" height="9.57" fill="#f5fafe"/><rect x="597.7" y="43.6" width="9.87" height="9.57" fill="#e7f1fa"/><rect x="607.55" y="43.6" width="9.87" height="9.57" fill="#f5fafe"/><rect x="617.4" y="43.6" width="9.87" height="9.57" fill="#f5fafe"/><rect x="627.25" y="43.6" width="9.87" height="9.57" fill="#f5fafe"/><rect x="637.1" y="43.6" width="9.87" height="9.57" fill="#f5fafe"/><rect x="646.95" y="43.6" width="9.87" height="9.57" fill="#eff6fc"/><rect x="656.8" y="43.6" width="9.87" height="9.57" fill="#eaf2fb"/><rect x="666.65" y="43.6" width="9.87" height="9.57" fill="#f5fafe"/><rect x="479.5" y="53.15" width="9.87" height="9.57" fill="#f5fafe"/><rect x="489.35" y="53.15" width="9.87" height="9.57" fill="#f5fafe"/><rect x="499.2" y="53.15" width="9.87" height="9.57" fill="#f5fafe"/><rect x="509.05" y="53.15" width="9.87" height="9.57" fill="#ebf3fb"/><rect x="518.9" y="53.15" width="9.87" height="9.57" fill="#f5fafe"/><rect x="528.75" y="53.15" width="9.87" height="9.57" fill="#f3f8fe"/><rect x="538.6" y="53.15" width="9.87" height="9.57" fill="#f2f7fd"/><rect x="548.45" y="53.15" width="9.87" height="9.57" fill="#eef5fc"/><rect x="558.3" y="53.15" width="9.87" height="9.57" fill="#e3eef9"/><rect x="568.15" y="53.15" width="9.87" height="9.57" fill="#f5fafe"/><rect x="578" y="53.15" width="9.87" height="9.57" fill="#f5fafe"/><rect x="587.85" y="53.15" width="9.87" height="9.57" fill="#f5fafe"/><rect x="597.7" y="53.15" width="9.87" height="9.57" fill="#eef5fc"/><rect x="607.55" y="53.15" width="9.87" height="9.57" fill="#eff6fc"/><rect x="617.4" y="53.15" width="9.87" height="9.57" fill="#f3f8fe"/><rect x="627.25" y="53.15" width="9.87" height="9.57" fill="#f5fafe"/><rect x="637.1" y="53.15" width="9.87" height="9.57" fill="#eff6fc"/><rect x="646.95" y="53.15" width="9.87" height="9.57" fill="#eff6fc"/><rect x="656.8" y="53.15" width="9.87" height="9.57" fill="#f2f7fd"/><rect x="666.65" y="53.15" width="9.87" height="9.57" fill="#f5fafe"/><rect x="479.5" y="62.7" width="9.87" height="9.57" fill="#f5fafe"/><rect x="489.35" y="62.7" width="9.87" height="9.57" fill="#f5fafe"/><rect x="499.2" y="62.7" width="9.87" height="9.57" fill="#f5fafe"/><rect x="509.05" y="62.7" width="9.87" height="9.57" fill="#e7f1fa"/><rect x="518.9" y="62.7" width="9.87" height="9.57" fill="#eff6fc"/><rect x="528.75" y="62.7" width="9.87" height="9.57" fill="#f3f8fe"/><rect x="538.6" y="62.7" width="9.87" height="9.57" fill="#f3f8fe"/><rect x="548.45" y="62.7" width="9.87" height="9.57" fill="#f5fafe"/><rect x="558.3" y="62.7" width="9.87" height="9.57" fill="#f5fafe"/><rect x="568.15" y="62.7" width="9.87" height="9.57" fill="#f3f8fe"/><rect x="578" y="62.7" width="9.87" height="9.57" fill="#f5fafe"/><rect x="587.85" y="62.7" width="9.87" height="9.57" fill="#eef5fc"/><rect x="597.7" y="62.7" width="9.87" height="9.57" fill="#eef5fc"/><rect x="607.55" y="62.7" width="9.87" height="9.57" fill="#f5fafe"/><rect x="617.4" y="62.7" width="9.87" height="9.57" fill="#f5fafe"/><rect x="627.25" y="62.7" width="9.87" height="9.57" fill="#f5fafe"/><rect x="637.1" y="62.7" width="9.87" height="9.57" fill="#f5fafe"/><rect x="646.95" y="62.7" width="9.87" height="9.57" fill="#f5fafe"/><rect x="656.8" y="62.7" width="9.87" height="9.57" fill="#eff6fc"/><rect x="666.65" y="62.7" width="9.87" height="9.57" fill="#f2f7fd"/><rect x="479.5" y="72.25" width="9.87" height="9.57" fill="#f5fafe"/><rect x="489.35" y="72.25" width="9.87" height="9.57" fill="#f2f7fd"/><rect x="499.2" y="72.25" width="9.87" height="9.57" fill="#f2f7fd"/><rect x="509.05" y="72.25" width="9.87" height="9.57" fill="#f5fafe"/><rect x="518.9" y="72.25" width="9.87" height="9.57" fill="#eaf2fb"/><rect x="528.75" y="72.25" width="9.87" height="9.57" fill="#f5fafe"/><rect x="538.6" y="72.25" width="9.87" height="9.57" fill="#f5fafe"/><rect x="548.45" y="72.25" width="9.87" height="9.57" fill="#f5fafe"/><rect x="558.3" y="72.25" width="9.87" height="9.57" fill="#f3f8fe"/><rect x="568.15" y="72.25" width="9.87" height="9.57" fill="#f5fafe"/><rect x="578" y="72.25" width="9.87" height="9.57" fill="#f5fafe"/><rect x="587.85" y="72.25" width="9.87" height="9.57" fill="#f5fafe"/><rect x="597.7" y="72.25" width="9.87" height="9.57" fill="#f5fafe"/><rect x="607.55" y="72.25" width="9.87" height="9.57" fill="#f5fafe"/><rect x="617.4" y="72.25" width="9.87" height="9.57" fill="#f2f7fd"/><rect x="627.25" y="72.25" width="9.87" height="9.57" fill="#f5fafe"/><rect x="637.1" y="72.25" width="9.87" height="9.57" fill="#f3f8fe"/><rect x="646.95" y="72.25" width="9.87" height="9.57" fill="#f5fafe"/><rect x="656.8" y="72.25" width="9.87" height="9.57" fill="#f5fafe"/><rect x="666.65" y="72.25" width="9.87" height="9.57" fill="#f5fafe"/><rect x="479.5" y="81.8" width="9.87" height="9.57" fill="#f5fafe"/><rect x="489.35" y="81.8" width="9.87" height="9.57" fill="#e3eef9"/><rect x="499.2" y="81.8" width="9.87" height="9.57" fill="#eef5fc"/><rect x="509.05" y="81.8" width="9.87" height="9.57" fill="#f5fafe"/><rect x="518.9" y="81.8" width="9.87" height="9.57" fill="#f5fafe"/><rect x="528.75" y="81.8" width="9.87" height="9.57" fill="#f5fafe"/><rect x="538.6" y="81.8" width="9.87" height="9.57" fill="#f5fafe"/><rect x="548.45" y="81.8" width="9.87" height="9.57" fill="#f3f8fe"/><rect x="558.3" y="81.8" width="9.87" height="9.57" fill="#f5fafe"/><rect x="568.15" y="81.8" width="9.87" height="9.57" fill="#f3f8fe"/><rect x="578" y="81.8" width="9.87" height="9.57" fill="#eef5fc"/><rect x="587.85" y="81.8" width="9.87" height="9.57" fill="#eff6fc"/><rect x="597.7" y="81.8" width="9.87" height="9.57" fill="#f5fafe"/><rect x="607.55" y="81.8" width="9.87" height="9.57" fill="#e7f1fa"/><rect x="617.4" y="81.8" width="9.87" height="9.57" fill="#eff6fc"/><rect x="627.25" y="81.8" width="9.87" height="9.57" fill="#f5fafe"/><rect x="637.1" y="81.8" width="9.87" height="9.57" fill="#f5fafe"/><rect x="646.95" y="81.8" width="9.87" height="9.57" fill="#f5fafe"/><rect x="656.8" y="81.8" width="9.87" height="9.57" fill="#f5fafe"/><rect x="666.65" y="81.8" width="9.87" height="9.57" fill="#ebf3fb"/><rect x="479.5" y="91.35" width="9.87" height="9.57" fill="#f5fafe"/><rect x="489.35" y="91.35" width="9.87" height="9.57" fill="#f5fafe"/><rect x="499.2" y="91.35" width="9.87" height="9.57" fill="#f5fafe"/><rect x="509.05" y="91.35" width="9.87" height="9.57" fill="#f3f8fe"/><rect x="518.9" y="91.35" width="9.87" height="9.57" fill="#f3f8fe"/><rect x="528.75" y="91.35" width="9.87" height="9.57" fill="#f3f8fe"/><rect x="538.6" y="91.35" width="9.87" height="9.57" fill="#eff6fc"/><rect x="548.45" y="91.35" width="9.87" height="9.57" fill="#f5fafe"/><rect x="558.3" y="91.35" width="9.87" height="9.57" fill="#f5fafe"/><rect x="568.15" y="91.35" width="9.87" height="9.57" fill="#f5fafe"/><rect x="578" y="91.35" width="9.87" height="9.57" fill="#f5fafe"/><rect x="587.85" y="91.35" width="9.87" height="9.57" fill="#f5fafe"/><rect x="597.7" y="91.35" width="9.87" height="9.57" fill="#f3f8fe"/><rect x="607.55" y="91.35" width="9.87" height="9.57" fill="#ebf3fb"/><rect x="617.4" y="91.35" width="9.87" height="9.57" fill="#f5fafe"/><rect x="627.25" y="91.35" width="9.87" height="9.57" fill="#f5fafe"/><rect x="637.1" y="91.35" width="9.87" height="9.57" fill="#f5fafe"/><rect x="646.95" y="91.35" width="9.87" height="9.57" fill="#f5fafe"/><rect x="656.8" y="91.35" width="9.87" height="9.57" fill="#f5fafe"/><rect x="666.65" y="91.35" width="9.87" height="9.57" fill="#eff6fc"/><rect x="479.5" y="100.9" width="9.87" height="9.57" fill="#f2f7fd"/><rect x="489.35" y="100.9" width="9.87" height="9.57" fill="#eff6fc"/><rect x="499.2" y="100.9" width="9.87" height="9.57" fill="#eef5fc"/><rect x="509.05" y="100.9" width="9.87" height="9.57" fill="#f5fafe"/><rect x="518.9" y="100.9" width="9.87" height="9.57" fill="#ebf3fb"/><rect x="528.75" y="100.9" width="9.87" height="9.57" fill="#f5fafe"/><rect x="538.6" y="100.9" width="9.87" height="9.57" fill="#eaf2fb"/><rect x="548.45" y="100.9" width="9.87" height="9.57" fill="#f2f7fd"/><rect x="558.3" y="100.9" width="9.87" height="9.57" fill="#eff6fc"/><rect x="568.15" y="100.9" width="9.87" height="9.57" fill="#f3f8fe"/><rect x="578" y="100.9" width="9.87" height="9.57" fill="#f2f7fd"/><rect x="587.85" y="100.9" width="9.87" height="9.57" fill="#eff6fc"/><rect x="597.7" y="100.9" width="9.87" height="9.57" fill="#f5fafe"/><rect x="607.55" y="100.9" width="9.87" height="9.57" fill="#f5fafe"/><rect x="617.4" y="100.9" width="9.87" height="9.57" fill="#f5fafe"/><rect x="627.25" y="100.9" width="9.87" height="9.57" fill="#eaf2fb"/><rect x="637.1" y="100.9" width="9.87" height="9.57" fill="#eef5fc"/><rect x="646.95" y="100.9" width="9.87" height="9.57" fill="#f5fafe"/><rect x="656.8" y="100.9" width="9.87" height="9.57" fill="#eef5fc"/><rect x="666.65" y="100.9" width="9.87" height="9.57" fill="#f2f7fd"/><rect x="479.5" y="110.45" width="9.87" height="9.57" fill="#f3f8fe"/><rect x="489.35" y="110.45" width="9.87" height="9.57" fill="#f3f8fe"/><rect x="499.2" y="110.45" width="9.87" height="9.57" fill="#f3f8fe"/><rect x="509.05" y="110.45" width="9.87" height="9.57" fill="#eaf2fb"/><rect x="518.9" y="110.45" width="9.87" height="9.57" fill="#eff6fc"/><rect x="528.75" y="110.45" width="9.87" height="9.57" fill="#f5fafe"/><rect x="538.6" y="110.45" width="9.87" height="9.57" fill="#eef5fc"/><rect x="548.45" y="110.45" width="9.87" height="9.57" fill="#f5fafe"/><rect x="558.3" y="110.45" width="9.87" height="9.57" fill="#e7f1fa"/><rect x="568.15" y="110.45" width="9.87" height="9.57" fill="#f3f8fe"/><rect x="578" y="110.45" width="9.87" height="9.57" fill="#f5fafe"/><rect x="587.85" y="110.45" width="9.87" height="9.57" fill="#f5fafe"/><rect x="597.7" y="110.45" width="9.87" height="9.57" fill="#eef5fc"/><rect x="607.55" y="110.45" width="9.87" height="9.57" fill="#f5fafe"/><rect x="617.4" y="110.45" width="9.87" height="9.57" fill="#f3f8fe"/><rect x="627.25" y="110.45" width="9.87" height="9.57" fill="#f5fafe"/><rect x="637.1" y="110.45" width="9.87" height="9.57" fill="#f5fafe"/><rect x="646.95" y="110.45" width="9.87" height="9.57" fill="#e3eef9"/><rect x="656.8" y="110.45" width="9.87" height="9.57" fill="#ebf3fb"/><rect x="666.65" y="110.45" width="9.87" height="9.57" fill="#f5fafe"/><rect x="479.5" y="120" width="9.87" height="9.57" fill="#f5fafe"/><rect x="489.35" y="120" width="9.87" height="9.57" fill="#f3f8fe"/><rect x="499.2" y="120" width="9.87" height="9.57" fill="#ebf3fb"/><rect x="509.05" y="120" width="9.87" height="9.57" fill="#f5fafe"/><rect x="518.9" y="120" width="9.87" height="9.57" fill="#f5fafe"/><rect x="528.75" y="120" width="9.87" height="9.57" fill="#f3f8fe"/><rect x="538.6" y="120" width="9.87" height="9.57" fill="#f5fafe"/><rect x="548.45" y="120" width="9.87" height="9.57" fill="#eff6fc"/><rect x="558.3" y="120" width="9.87" height="9.57" fill="#ebf3fb"/><rect x="568.15" y="120" width="9.87" height="9.57" fill="#f5fafe"/><rect x="578" y="120" width="9.87" height="9.57" fill="#f5fafe"/><rect x="587.85" y="120" width="9.87" height="9.57" fill="#f2f7fd"/><rect x="597.7" y="120" width="9.87" height="9.57" fill="#f3f8fe"/><rect x="607.55" y="120" width="9.87" height="9.57" fill="#f5fafe"/><rect x="617.4" y="120" width="9.87" height="9.57" fill="#ebf3fb"/><rect x="627.25" y="120" width="9.87" height="9.57" fill="#f5fafe"/><rect x="637.1" y="120" width="9.87" height="9.57" fill="#f3f8fe"/><rect x="646.95" y="120" width="9.87" height="9.57" fill="#f5fafe"/><rect x="656.8" y="120" width="9.87" height="9.57" fill="#f3f8fe"/><rect x="666.65" y="120" width="9.87" height="9.57" fill="#f5fafe"/><rect x="479.5" y="129.55" width="9.87" height="9.57" fill="#f3f8fe"/><rect x="489.35" y="129.55" width="9.87" height="9.57" fill="#eff6fc"/><rect x="499.2" y="129.55" width="9.87" height="9.57" fill="#f2f7fd"/><rect x="509.05" y="129.55" width="9.87" height="9.57" fill="#f5fafe"/><rect x="518.9" y="129.55" width="9.87" height="9.57" fill="#f2f7fd"/><rect x="528.75" y="129.55" width="9.87" height="9.57" fill="#e3eef9"/><rect x="538.6" y="129.55" width="9.87" height="9.57" fill="#ebf3fb"/><rect x="548.45" y="129.55" width="9.87" height="9.57" fill="#f5fafe"/><rect x="558.3" y="129.55" width="9.87" height="9.57" fill="#f5fafe"/><rect x="568.15" y="129.55" width="9.87" height="9.57" fill="#f5fafe"/><rect x="578" y="129.55" width="9.87" height="9.57" fill="#f2f7fd"/><rect x="587.85" y="129.55" width="9.87" height="9.57" fill="#eef5fc"/><rect x="597.7" y="129.55" width="9.87" height="9.57" fill="#f5fafe"/><rect x="607.55" y="129.55" width="9.87" height="9.57" fill="#f5fafe"/><rect x="617.4" y="129.55" width="9.87" height="9.57" fill="#f3f8fe"/><rect x="627.25" y="129.55" width="9.87" height="9.57" fill="#f3f8fe"/><rect x="637.1" y="129.55" width="9.87" height="9.57" fill="#f3f8fe"/><rect x="646.95" y="129.55" width="9.87" height="9.57" fill="#f5fafe"/><rect x="656.8" y="129.55" width="9.87" height="9.57" fill="#eff6fc"/><rect x="666.65" y="129.55" width="9.87" height="9.57" fill="#f5fafe"/><rect x="479.5" y="139.1" width="9.87" height="9.57" fill="#f2f7fd"/><rect x="489.35" y="139.1" width="9.87" height="9.57" fill="#f5fafe"/><rect x="499.2" y="139.1" width="9.87" height="9.57" fill="#f5fafe"/><rect x="509.05" y="139.1" width="9.87" height="9.57" fill="#eaf2fb"/><rect x="518.9" y="139.1" width="9.87" height="9.57" fill="#e7f1fa"/><rect x="528.75" y="139.1" width="9.87" height="9.57" fill="#f2f7fd"/><rect x="538.6" y="139.1" width="9.87" height="9.57" fill="#f5fafe"/><rect x="548.45" y="139.1" width="9.87" height="9.57" fill="#ebf3fb"/><rect x="558.3" y="139.1" width="9.87" height="9.57" fill="#ebf3fb"/><rect x="568.15" y="139.1" width="9.87" height="9.57" fill="#f5fafe"/><rect x="578" y="139.1" width="9.87" height="9.57" fill="#f5fafe"/><rect x="587.85" y="139.1" width="9.87" height="9.57" fill="#e5eff9"/><rect x="597.7" y="139.1" width="9.87" height="9.57" fill="#e7f1fa"/><rect x="607.55" y="139.1" width="9.87" height="9.57" fill="#f5fafe"/><rect x="617.4" y="139.1" width="9.87" height="9.57" fill="#f5fafe"/><rect x="627.25" y="139.1" width="9.87" height="9.57" fill="#f5fafe"/><rect x="637.1" y="139.1" width="9.87" height="9.57" fill="#f3f8fe"/><rect x="646.95" y="139.1" width="9.87" height="9.57" fill="#f3f8fe"/><rect x="656.8" y="139.1" width="9.87" height="9.57" fill="#f5fafe"/><rect x="666.65" y="139.1" width="9.87" height="9.57" fill="#f2f7fd"/><rect x="479.5" y="148.65" width="9.87" height="9.57" fill="#f5fafe"/><rect x="489.35" y="148.65" width="9.87" height="9.57" fill="#f5fafe"/><rect x="499.2" y="148.65" width="9.87" height="9.57" fill="#f5fafe"/><rect x="509.05" y="148.65" width="9.87" height="9.57" fill="#eef5fc"/><rect x="518.9" y="148.65" width="9.87" height="9.57" fill="#f3f8fe"/><rect x="528.75" y="148.65" width="9.87" height="9.57" fill="#eef5fc"/><rect x="538.6" y="148.65" width="9.87" height="9.57" fill="#eef5fc"/><rect x="548.45" y="148.65" width="9.87" height="9.57" fill="#f2f7fd"/><rect x="558.3" y="148.65" width="9.87" height="9.57" fill="#eaf2fb"/><rect x="568.15" y="148.65" width="9.87" height="9.57" fill="#eaf2fb"/><rect x="578" y="148.65" width="9.87" height="9.57" fill="#eef5fc"/><rect x="587.85" y="148.65" width="9.87" height="9.57" fill="#f5fafe"/><rect x="597.7" y="148.65" width="9.87" height="9.57" fill="#f5fafe"/><rect x="607.55" y="148.65" width="9.87" height="9.57" fill="#f5fafe"/><rect x="617.4" y="148.65" width="9.87" height="9.57" fill="#e5eff9"/><rect x="627.25" y="148.65" width="9.87" height="9.57" fill="#e7f1fa"/><rect x="637.1" y="148.65" width="9.87" height="9.57" fill="#f3f8fe"/><rect x="646.95" y="148.65" width="9.87" height="9.57" fill="#f5fafe"/><rect x="656.8" y="148.65" width="9.87" height="9.57" fill="#f2f7fd"/><rect x="666.65" y="148.65" width="9.87" height="9.57" fill="#eff6fc"/><rect x="479.5" y="158.2" width="9.87" height="9.57" fill="#e7f1fa"/><rect x="489.35" y="158.2" width="9.87" height="9.57" fill="#ebf3fb"/><rect x="499.2" y="158.2" width="9.87" height="9.57" fill="#f5fafe"/><rect x="509.05" y="158.2" width="9.87" height="9.57" fill="#eef5fc"/><rect x="518.9" y="158.2" width="9.87" height="9.57" fill="#f2f7fd"/><rect x="528.75" y="158.2" width="9.87" height="9.57" fill="#f2f7fd"/><rect x="538.6" y="158.2" width="9.87" height="9.57" fill="#f3f8fe"/><rect x="548.45" y="158.2" width="9.87" height="9.57" fill="#f3f8fe"/><rect x="558.3" y="158.2" width="9.87" height="9.57" fill="#f5fafe"/><rect x="568.15" y="158.2" width="9.87" height="9.57" fill="#eef5fc"/><rect x="578" y="158.2" width="9.87" height="9.57" fill="#eff6fc"/><rect x="587.85" y="158.2" width="9.87" height="9.57" fill="#f3f8fe"/><rect x="597.7" y="158.2" width="9.87" height="9.57" fill="#ebf3fb"/><rect x="607.55" y="158.2" width="9.87" height="9.57" fill="#eef5fc"/><rect x="617.4" y="158.2" width="9.87" height="9.57" fill="#eef5fc"/><rect x="627.25" y="158.2" width="9.87" height="9.57" fill="#f2f7fd"/><rect x="637.1" y="158.2" width="9.87" height="9.57" fill="#eaf2fb"/><rect x="646.95" y="158.2" width="9.87" height="9.57" fill="#f5fafe"/><rect x="656.8" y="158.2" width="9.87" height="9.57" fill="#f5fafe"/><rect x="666.65" y="158.2" width="9.87" height="9.57" fill="#eff6fc"/><rect x="479.5" y="167.75" width="9.87" height="9.57" fill="#ebf3fb"/><rect x="489.35" y="167.75" width="9.87" height="9.57" fill="#ebf3fb"/><rect x="499.2" y="167.75" width="9.87" height="9.57" fill="#f2f7fd"/><rect x="509.05" y="167.75" width="9.87" height="9.57" fill="#eff6fc"/><rect x="518.9" y="167.75" width="9.87" height="9.57" fill="#ebf3fb"/><rect x="528.75" y="167.75" width="9.87" height="9.57" fill="#eef5fc"/><rect x="538.6" y="167.75" width="9.87" height="9.57" fill="#dfecf7"/><rect x="548.45" y="167.75" width="9.87" height="9.57" fill="#f5fafe"/><rect x="558.3" y="167.75" width="9.87" height="9.57" fill="#f2f7fd"/><rect x="568.15" y="167.75" width="9.87" height="9.57" fill="#f2f7fd"/><rect x="578" y="167.75" width="9.87" height="9.57" fill="#ebf3fb"/><rect x="587.85" y="167.75" width="9.87" height="9.57" fill="#f5fafe"/><rect x="597.7" y="167.75" width="9.87" height="9.57" fill="#f5fafe"/><rect x="607.55" y="167.75" width="9.87" height="9.57" fill="#f3f8fe"/><rect x="617.4" y="167.75" width="9.87" height="9.57" fill="#f3f8fe"/><rect x="627.25" y="167.75" width="9.87" height="9.57" fill="#f3f8fe"/><rect x="637.1" y="167.75" width="9.87" height="9.57" fill="#f2f7fd"/><rect x="646.95" y="167.75" width="9.87" height="9.57" fill="#f5fafe"/><rect x="656.8" y="167.75" width="9.87" height="9.57" fill="#f2f7fd"/><rect x="666.65" y="167.75" width="9.87" height="9.57" fill="#f2f7fd"/><rect x="479.5" y="177.3" width="9.87" height="9.57" fill="#ebf3fb"/><rect x="489.35" y="177.3" width="9.87" height="9.57" fill="#eef5fc"/><rect x="499.2" y="177.3" width="9.87" height="9.57" fill="#eef5fc"/><rect x="509.05" y="177.3" width="9.87" height="9.57" fill="#eaf2fb"/><rect x="518.9" y="177.3" width="9.87" height="9.57" fill="#eaf2fb"/><rect x="528.75" y="177.3" width="9.87" height="9.57" fill="#eff6fc"/><rect x="538.6" y="177.3" width="9.87" height="9.57" fill="#eaf2fb"/><rect x="548.45" y="177.3" width="9.87" height="9.57" fill="#ccdff1"/><rect x="558.3" y="177.3" width="9.87" height="9.57" fill="#f5fafe"/><rect x="568.15" y="177.3" width="9.87" height="9.57" fill="#eff6fc"/><rect x="578" y="177.3" width="9.87" height="9.57" fill="#f2f7fd"/><rect x="587.85" y="177.3" width="9.87" height="9.57" fill="#f2f7fd"/><rect x="597.7" y="177.3" width="9.87" height="9.57" fill="#eff6fc"/><rect x="607.55" y="177.3" width="9.87" height="9.57" fill="#eef5fc"/><rect x="617.4" y="177.3" width="9.87" height="9.57" fill="#e5eff9"/><rect x="627.25" y="177.3" width="9.87" height="9.57" fill="#e5eff9"/><rect x="637.1" y="177.3" width="9.87" height="9.57" fill="#f2f7fd"/><rect x="646.95" y="177.3" width="9.87" height="9.57" fill="#ebf3fb"/><rect x="656.8" y="177.3" width="9.87" height="9.57" fill="#dce9f6"/><rect x="666.65" y="177.3" width="9.87" height="9.57" fill="#f2f7fd"/><rect x="479.5" y="186.85" width="9.87" height="9.57" fill="#d9e8f5"/><rect x="489.35" y="186.85" width="9.87" height="9.57" fill="#eff6fc"/><rect x="499.2" y="186.85" width="9.87" height="9.57" fill="#f2f7fd"/><rect x="509.05" y="186.85" width="9.87" height="9.57" fill="#f2f7fd"/><rect x="518.9" y="186.85" width="9.87" height="9.57" fill="#eaf2fb"/><rect x="528.75" y="186.85" width="9.87" height="9.57" fill="#eff6fc"/><rect x="538.6" y="186.85" width="9.87" height="9.57" fill="#f5fafe"/><rect x="548.45" y="186.85" width="9.87" height="9.57" fill="#f5fafe"/><rect x="558.3" y="186.85" width="9.87" height="9.57" fill="#e3eef9"/><rect x="568.15" y="186.85" width="9.87" height="9.57" fill="#ebf3fb"/><rect x="578" y="186.85" width="9.87" height="9.57" fill="#e5eff9"/><rect x="587.85" y="186.85" width="9.87" height="9.57" fill="#e3eef9"/><rect x="597.7" y="186.85" width="9.87" height="9.57" fill="#f2f7fd"/><rect x="607.55" y="186.85" width="9.87" height="9.57" fill="#eaf2fb"/><rect x="617.4" y="186.85" width="9.87" height="9.57" fill="#ebf3fb"/><rect x="627.25" y="186.85" width="9.87" height="9.57" fill="#f5fafe"/><rect x="637.1" y="186.85" width="9.87" height="9.57" fill="#dfecf7"/><rect x="646.95" y="186.85" width="9.87" height="9.57" fill="#ddeaf7"/><rect x="656.8" y="186.85" width="9.87" height="9.57" fill="#d6e5f4"/><rect x="666.65" y="186.85" width="9.87" height="9.57" fill="#dfecf7"/><rect x="479.5" y="196.4" width="9.87" height="9.57" fill="#eef5fc"/><rect x="489.35" y="196.4" width="9.87" height="9.57" fill="#b7d4ea"/><rect x="499.2" y="196.4" width="9.87" height="9.57" fill="#d0e1f2"/><rect x="509.05" y="196.4" width="9.87" height="9.57" fill="#d6e5f4"/><rect x="518.9" y="196.4" width="9.87" height="9.57" fill="#ccdff1"/><rect x="528.75" y="196.4" width="9.87" height="9.57" fill="#d9e8f5"/><rect x="538.6" y="196.4" width="9.87" height="9.57" fill="#bdd7ec"/><rect x="548.45" y="196.4" width="9.87" height="9.57" fill="#add0e6"/><rect x="558.3" y="196.4" width="9.87" height="9.57" fill="#ccdff1"/><rect x="568.15" y="196.4" width="9.87" height="9.57" fill="#ddeaf7"/><rect x="578" y="196.4" width="9.87" height="9.57" fill="#e7f1fa"/><rect x="587.85" y="196.4" width="9.87" height="9.57" fill="#add0e6"/><rect x="597.7" y="196.4" width="9.87" height="9.57" fill="#6aaed6"/><rect x="607.55" y="196.4" width="9.87" height="9.57" fill="#b7d4ea"/><rect x="617.4" y="196.4" width="9.87" height="9.57" fill="#d6e5f4"/><rect x="627.25" y="196.4" width="9.87" height="9.57" fill="#ccdff1"/><rect x="637.1" y="196.4" width="9.87" height="9.57" fill="#d9e8f5"/><rect x="646.95" y="196.4" width="9.87" height="9.57" fill="#dfecf7"/><rect x="656.8" y="196.4" width="9.87" height="9.57" fill="#ebf3fb"/><rect x="666.65" y="196.4" width="9.87" height="9.57" fill="#e7f1fa"/><rect x="479.5" y="205.95" width="9.87" height="9.57" fill="#115ca5"/><rect x="489.35" y="205.95" width="9.87" height="9.57" fill="#2979b9"/><rect x="499.2" y="205.95" width="9.87" height="9.57" fill="#a6cee4"/><rect x="509.05" y="205.95" width="9.87" height="9.57" fill="#08306b"/><rect x="518.9" y="205.95" width="9.87" height="9.57" fill="#3b8bc2"/><rect x="528.75" y="205.95" width="9.87" height="9.57" fill="#7fb9da"/><rect x="538.6" y="205.95" width="9.87" height="9.57" fill="#0d57a1"/><rect x="548.45" y="205.95" width="9.87" height="9.57" fill="#7fb9da"/><rect x="558.3" y="205.95" width="9.87" height="9.57" fill="#9cc9e1"/><rect x="568.15" y="205.95" width="9.87" height="9.57" fill="#9cc9e1"/><rect x="578" y="205.95" width="9.87" height="9.57" fill="#1764ab"/><rect x="587.85" y="205.95" width="9.87" height="9.57" fill="#5ba3d0"/><rect x="597.7" y="205.95" width="9.87" height="9.57" fill="#5ba3d0"/><rect x="607.55" y="205.95" width="9.87" height="9.57" fill="#3383be"/><rect x="617.4" y="205.95" width="9.87" height="9.57" fill="#9cc9e1"/><rect x="627.25" y="205.95" width="9.87" height="9.57" fill="#64a9d3"/><rect x="637.1" y="205.95" width="9.87" height="9.57" fill="#64a9d3"/><rect x="646.95" y="205.95" width="9.87" height="9.57" fill="#0d57a1"/><rect x="656.8" y="205.95" width="9.87" height="9.57" fill="#5ba3d0"/><rect x="666.65" y="205.95" width="9.87" height="9.57" fill="#08458a"/></g>
<g clip-path="url(#cgbt)" shape-rendering="crispEdges"><rect x="6.5" y="252.5" width="199" height="194" fill="#2f6c8e"/><rect x="11.4" y="279.3" width="51.2" height="25.5" rx="2" fill="#25848e"/><rect x="38.4" y="303" width="24.2" height="24" rx="0" fill="#25848e"/><rect x="59.6" y="253.5" width="25.6" height="27.1" rx="0" fill="#25848e"/><rect x="58.5" y="325" width="27.5" height="42.7" rx="0" fill="#25848e"/><rect x="85" y="366" width="71" height="34" rx="2" fill="#25848e"/><rect x="133.5" y="414" width="23" height="31.5" rx="0" fill="#25848e"/><rect x="85.2" y="253.5" width="17.9" height="29.1" rx="0" fill="#1e9c89"/><rect x="58.6" y="281" width="28.7" height="15" rx="0" fill="#1e9c89"/><rect x="62.6" y="296" width="24.7" height="22" rx="0" fill="#1e9c89"/><rect x="62" y="318" width="25.3" height="11.7" rx="0" fill="#1e9c89"/><rect x="84.2" y="327" width="23.8" height="40.7" rx="2" fill="#1e9c89"/><rect x="63.8" y="346.5" width="22.2" height="11.5" rx="0" fill="#1e9c89"/><rect x="111" y="366" width="45.4" height="33" rx="0" fill="#1e9c89"/><rect x="109.6" y="393.8" width="25.4" height="4" rx="1.5" fill="#1e9c89"/><rect x="155.5" y="360" width="5.2" height="85.5" rx="0" fill="#1e9c89"/><rect x="108" y="381.5" width="26.5" height="12.5" rx="3" fill="#25848e"/><rect x="128.2" y="372.7" width="2.8" height="9.3" rx="0" fill="#25848e"/><rect x="56.4" y="366.5" width="29.1" height="35.3" rx="2" fill="#2f6c8e"/><rect x="86.5" y="399.5" width="69.5" height="15.9" rx="0" fill="#2f6c8e"/><rect x="99.2" y="404" width="35.8" height="41.5" rx="0" fill="#2f6c8e"/><rect x="111.5" y="253.5" width="48" height="73.5" rx="0" fill="#5ec962"/><rect x="133.3" y="326" width="24.7" height="35.8" rx="0" fill="#5ec962"/><rect x="129" y="344" width="5" height="17.8" rx="0" fill="#5ec962"/><rect x="159.6" y="361.8" width="44.9" height="37.9" rx="0" fill="#5ec962"/><polygon fill="#5ec962" points="161.4,413.6 180,413.6 190.6,418.5 190.6,445.5 161.4,445.5"/><rect x="103.1" y="253.5" width="9" height="30.2" rx="0" fill="#2fb47c"/><rect x="87.2" y="282.6" width="24.9" height="44.4" rx="0" fill="#2fb47c"/><rect x="112.1" y="298.3" width="13.9" height="7.3" rx="1.5" fill="#2fb47c"/><rect x="108" y="327" width="26.6" height="20" rx="2" fill="#2fb47c"/><rect x="106" y="345" width="24.4" height="17.4" rx="2" fill="#2fb47c"/><rect x="102.7" y="347.5" width="7.3" height="14.9" rx="2" fill="#2fb47c"/><rect x="103.3" y="360.7" width="54.2" height="5.8" rx="1.5" fill="#2fb47c"/><rect x="195.7" y="372.5" width="8.8" height="16.5" rx="0" fill="#2fb47c"/><polygon fill="#2fb47c" points="160.7,399.7 204.5,399.7 204.5,445.5 190.6,445.5 190.6,418.5 180,413.6 161.4,413.6"/><rect x="87.3" y="296.8" width="13.2" height="9.5" rx="1.5" fill="#1e9c89"/><polygon fill="#1e9c89" points="192.7,403.9 204.5,403.9 204.5,414.3 196,414.3 192.7,408"/><rect x="159.5" y="253.5" width="45" height="25" rx="0" fill="#9bd93c"/><rect x="158.2" y="278.5" width="46.3" height="27.8" rx="0" fill="#9bd93c"/><rect x="157.8" y="306.3" width="46.7" height="56.2" rx="0" fill="#9bd93c"/><polygon fill="#9bd93c" points="158.5,362 162.5,367.6 167,362"/><polygon fill="#9bd93c" points="161.6,392.4 164,392.4 167.8,395 164,397.7 161.6,397.7"/><rect x="193.2" y="331.1" width="11.3" height="13.9" rx="2" fill="#5ec962"/><rect x="7.5" y="253.5" width="6.1" height="23.6" rx="0" fill="#3b528b"/><rect x="7.5" y="385.8" width="48.9" height="9.7" rx="1.5" fill="#3b528b"/><rect x="7.5" y="398" width="48.9" height="47.5" rx="0" fill="#3b528b"/><rect x="37.5" y="385" width="21.2" height="16" rx="2" fill="#3b528b"/><polygon fill="#3b528b" points="56.4,401.8 86,401.8 90,404 108.7,404 108.7,412.4 103,418 99.2,420.4 99.2,445.5 56.4,445.5"/><rect x="7.5" y="405.3" width="48.9" height="6.9" rx="0" fill="#463480"/><rect x="39" y="411" width="17.4" height="3.8" rx="0" fill="#463480"/></g>
<g clip-path="url(#cdnn)"><rect x="243.5" y="252.5" width="198" height="194" fill="#2f6c8e"/><polygon fill="#3b528b" points="244.5,294 301.5,420.6 273,416 244.5,411.6"/><polygon fill="#463480" points="244.5,374.8 254,393 254.6,396 251,400.7 244.5,400.9"/><polygon fill="#25848e" points="256.8,253.5 440.5,253.5 440.5,445.5 244.5,445.5 244.5,419.4 273.2,424.8 302.5,430.8 320,435 331.7,437.6 344,439.6 355,438.8 370,437.5 383.5,436.2 366.9,431.5 343.5,425.6 332.9,422.1"/><polygon fill="#1e9c89" points="283.8,253.5 355.2,410.4 366.9,422.1 390.4,426.8 413.8,432.6 440.5,443.2 440.5,253.5"/><polygon fill="#1e9c89" points="244.5,427.6 273.2,432.6 302.5,437.8 324,441.6 344,443.4 357,445.5 244.5,445.5"/><polygon fill="#2fb47c" points="311.5,253.5 382.1,408 390.4,415 402.1,420.9 425.5,425.6 440.5,428.6 440.5,253.5"/><polygon fill="#2fb47c" points="244.5,434 273.2,439.2 307.2,445.5 244.5,445.5"/><polygon fill="#5ec962" points="342.5,253.5 409.1,403.3 418.5,410.4 430.2,415 440.5,418.6 440.5,253.5"/><polygon fill="#9bd93c" points="377.8,253.5 440.5,389.5 440.5,253.5"/><polygon fill="#dfe318" points="431.6,253.5 440.5,271.8 440.5,253.5"/></g>
<g clip-path="url(#ctfl)"><rect x="479.5" y="252.5" width="199" height="194" fill="#463480"/><path fill="#3b528b" d="M480.5,410.2C480.71,410.71 481.28,412.27 481.74,413.25C482.19,414.24 482.7,415.18 483.24,416.1C483.78,417.02 484.37,417.91 484.98,418.78C485.59,419.65 486.24,420.49 486.91,421.31C487.57,422.14 488.27,422.94 488.99,423.73C489.7,424.53 490.43,425.3 491.18,426.07C491.92,426.84 492.68,427.6 493.44,428.36C494.2,429.12 494.97,429.87 495.74,430.63C496.5,431.38 497.27,432.14 498.03,432.9C498.78,433.67 499.54,434.44 500.27,435.22C501,436.01 501.73,436.8 502.43,437.61C503.13,438.42 503.81,439.25 504.46,440.1C505.11,440.95 505.74,441.82 506.33,442.72C506.92,443.62 507.72,445.04 508,445.5L677.5,445.5L677.5,253.5L480.5,253.5Z"/><path fill="#2f6c8e" d="M497,253.5C497.04,253.99 497.17,255.46 497.26,256.44C497.34,257.42 497.43,258.41 497.51,259.4C497.59,260.38 497.67,261.37 497.74,262.36C497.82,263.35 497.9,264.35 497.97,265.34C498.04,266.34 498.12,267.34 498.19,268.33C498.26,269.33 498.33,270.33 498.4,271.34C498.47,272.34 498.54,273.34 498.61,274.35C498.68,275.36 498.74,276.36 498.81,277.37C498.88,278.38 498.94,279.39 499.01,280.4C499.08,281.41 499.14,282.43 499.21,283.44C499.28,284.46 499.34,285.47 499.41,286.49C499.47,287.5 499.54,288.52 499.61,289.54C499.68,290.56 499.74,291.58 499.81,292.6C499.88,293.62 499.95,294.64 500.02,295.66C500.09,296.68 500.16,297.71 500.24,298.73C500.31,299.75 500.38,300.78 500.46,301.8C500.53,302.82 500.61,303.85 500.69,304.87C500.77,305.9 500.85,306.92 500.93,307.95C501.01,308.97 501.09,310 501.18,311.03C501.27,312.05 501.35,313.08 501.45,314.1C501.54,315.13 501.63,316.15 501.72,317.18C501.82,318.21 501.92,319.23 502.02,320.26C502.12,321.28 502.22,322.31 502.33,323.33C502.44,324.36 502.55,325.38 502.66,326.4C502.78,327.43 502.89,328.45 503.01,329.47C503.13,330.49 503.26,331.52 503.38,332.54C503.51,333.56 503.64,334.58 503.78,335.6C503.92,336.62 504.05,337.63 504.2,338.65C504.34,339.67 504.49,340.69 504.64,341.7C504.8,342.72 504.95,343.73 505.11,344.74C505.28,345.76 505.44,346.77 505.61,347.78C505.79,348.79 505.96,349.8 506.14,350.8C506.33,351.81 506.51,352.82 506.7,353.82C506.9,354.82 507.09,355.83 507.3,356.83C507.5,357.83 507.71,358.83 507.92,359.82C508.14,360.82 508.36,361.81 508.59,362.81C508.81,363.8 509.05,364.79 509.29,365.78C509.53,366.77 509.77,367.75 510.02,368.74C510.28,369.72 510.54,370.71 510.8,371.69C511.07,372.66 511.34,373.64 511.62,374.62C511.9,375.59 512.19,376.56 512.48,377.53C512.78,378.5 513.08,379.47 513.39,380.43C513.69,381.4 514.01,382.36 514.34,383.32C514.66,384.28 514.99,385.23 515.33,386.19C515.67,387.14 516.02,388.09 516.38,389.03C516.73,389.98 517.1,390.93 517.47,391.87C517.84,392.8 518.23,393.74 518.62,394.67C519.01,395.6 519.41,396.53 519.83,397.44C520.24,398.36 520.66,399.27 521.1,400.17C521.54,401.07 521.99,401.97 522.45,402.85C522.91,403.73 523.39,404.6 523.88,405.46C524.37,406.32 524.88,407.17 525.4,408C525.92,408.84 526.45,409.66 527.01,410.46C527.56,411.26 528.13,412.05 528.72,412.83C529.31,413.6 529.92,414.35 530.55,415.09C531.17,415.82 531.82,416.54 532.48,417.24C533.15,417.93 533.84,418.61 534.54,419.27C535.25,419.92 535.97,420.56 536.71,421.18C537.46,421.81 538.22,422.41 538.99,423C539.76,423.59 540.55,424.16 541.36,424.72C542.16,425.28 542.98,425.83 543.81,426.36C544.64,426.9 545.49,427.42 546.34,427.93C547.19,428.44 548.06,428.94 548.93,429.44C549.8,429.93 550.69,430.41 551.58,430.89C552.47,431.37 553.37,431.84 554.27,432.31C555.17,432.78 556.09,433.24 557,433.69C557.91,434.15 558.83,434.61 559.75,435.06C560.67,435.52 561.59,435.97 562.51,436.43C563.43,436.88 564.36,437.34 565.27,437.8C566.19,438.27 567.11,438.74 568.01,439.21C568.92,439.69 569.83,440.18 570.72,440.67C571.62,441.17 572.51,441.67 573.38,442.19C574.26,442.71 575.13,443.25 575.98,443.8C576.83,444.35 578.08,445.22 578.5,445.5L677.5,445.5L677.5,253.5Z"/><path fill="#25848e" d="M519.2,253.5C519.22,253.97 519.3,255.37 519.35,256.31C519.39,257.26 519.44,258.21 519.48,259.16C519.53,260.12 519.57,261.08 519.62,262.04C519.66,263.01 519.71,263.98 519.75,264.96C519.79,265.93 519.84,266.92 519.88,267.9C519.93,268.89 519.97,269.88 520.02,270.87C520.06,271.87 520.11,272.87 520.15,273.87C520.2,274.88 520.25,275.89 520.29,276.9C520.34,277.91 520.39,278.92 520.44,279.94C520.49,280.96 520.55,281.98 520.6,283.01C520.65,284.04 520.71,285.06 520.77,286.1C520.83,287.13 520.88,288.16 520.95,289.2C521.01,290.23 521.07,291.27 521.14,292.31C521.21,293.35 521.27,294.4 521.35,295.44C521.42,296.49 521.49,297.53 521.57,298.58C521.65,299.63 521.73,300.68 521.81,301.73C521.9,302.78 521.99,303.83 522.08,304.88C522.17,305.93 522.26,306.99 522.36,308.04C522.46,309.09 522.57,310.15 522.67,311.2C522.78,312.25 522.89,313.31 523.01,314.36C523.12,315.42 523.24,316.47 523.37,317.52C523.49,318.58 523.62,319.63 523.76,320.68C523.89,321.73 524.03,322.78 524.18,323.83C524.33,324.88 524.48,325.93 524.63,326.98C524.79,328.02 524.95,329.07 525.12,330.11C525.29,331.15 525.46,332.2 525.64,333.23C525.82,334.27 526.01,335.31 526.2,336.34C526.39,337.38 526.59,338.41 526.8,339.44C527.01,340.47 527.22,341.49 527.44,342.52C527.66,343.54 527.89,344.56 528.12,345.58C528.36,346.59 528.6,347.61 528.85,348.61C529.1,349.62 529.35,350.63 529.62,351.63C529.88,352.63 530.16,353.63 530.44,354.62C530.72,355.61 531.01,356.6 531.31,357.58C531.6,358.56 531.91,359.54 532.22,360.51C532.54,361.48 532.86,362.45 533.2,363.41C533.53,364.38 533.87,365.33 534.22,366.28C534.57,367.23 534.93,368.18 535.3,369.12C535.67,370.05 536.05,370.99 536.44,371.91C536.83,372.84 537.23,373.76 537.64,374.67C538.05,375.58 538.47,376.49 538.9,377.39C539.33,378.29 539.77,379.18 540.22,380.06C540.68,380.94 541.14,381.82 541.61,382.69C542.08,383.56 542.57,384.42 543.06,385.27C543.56,386.12 544.07,386.97 544.59,387.8C545.1,388.64 545.63,389.47 546.18,390.28C546.72,391.1 547.27,391.91 547.84,392.71C548.4,393.51 548.98,394.31 549.57,395.09C550.16,395.87 550.77,396.64 551.38,397.4C552,398.17 552.63,398.92 553.27,399.66C553.91,400.4 554.56,401.14 555.23,401.86C555.9,402.58 556.58,403.29 557.27,403.99C557.97,404.7 558.68,405.39 559.4,406.07C560.12,406.75 560.85,407.41 561.59,408.07C562.34,408.73 563.09,409.38 563.86,410.02C564.63,410.66 565.4,411.29 566.19,411.91C566.98,412.53 567.78,413.14 568.59,413.74C569.39,414.35 570.21,414.94 571.04,415.52C571.86,416.1 572.7,416.68 573.54,417.24C574.38,417.8 575.23,418.36 576.09,418.91C576.95,419.45 577.81,419.99 578.68,420.52C579.56,421.05 580.43,421.57 581.32,422.09C582.2,422.6 583.09,423.1 583.99,423.6C584.88,424.1 585.78,424.59 586.69,425.07C587.59,425.55 588.5,426.02 589.41,426.49C590.32,426.95 591.24,427.41 592.16,427.86C593.08,428.31 594,428.76 594.92,429.19C595.84,429.63 596.77,430.06 597.7,430.48C598.62,430.91 599.55,431.32 600.48,431.73C601.41,432.15 602.34,432.55 603.27,432.96C604.2,433.37 605.13,433.77 606.06,434.17C606.98,434.58 607.91,434.98 608.84,435.4C609.76,435.81 610.69,436.22 611.61,436.64C612.53,437.06 613.45,437.49 614.37,437.92C615.29,438.36 616.2,438.8 617.11,439.26C618.02,439.72 618.93,440.19 619.83,440.67C620.73,441.16 621.63,441.65 622.52,442.17C623.41,442.69 624.3,443.22 625.18,443.77C626.06,444.33 627.36,445.21 627.8,445.5L677.5,445.5L677.5,253.5Z"/><path fill="#1e9c89" d="M539.7,253.5C539.71,253.98 539.76,255.4 539.79,256.36C539.82,257.31 539.86,258.27 539.9,259.24C539.94,260.2 539.99,261.17 540.04,262.14C540.09,263.12 540.14,264.09 540.2,265.07C540.26,266.05 540.33,267.04 540.39,268.02C540.46,269.01 540.53,270 540.61,270.99C540.69,271.99 540.77,272.98 540.85,273.98C540.94,274.98 541.03,275.98 541.12,276.99C541.22,277.99 541.32,279 541.42,280.01C541.53,281.01 541.64,282.03 541.75,283.04C541.87,284.05 541.99,285.07 542.11,286.08C542.24,287.1 542.37,288.12 542.5,289.14C542.64,290.16 542.78,291.18 542.92,292.2C543.07,293.23 543.22,294.25 543.37,295.27C543.53,296.3 543.69,297.33 543.85,298.35C544.02,299.38 544.19,300.41 544.37,301.43C544.55,302.46 544.73,303.49 544.92,304.52C545.1,305.54 545.3,306.57 545.5,307.6C545.7,308.63 545.9,309.65 546.11,310.68C546.32,311.71 546.54,312.74 546.76,313.76C546.98,314.79 547.21,315.81 547.44,316.84C547.68,317.86 547.92,318.89 548.16,319.91C548.41,320.93 548.66,321.95 548.92,322.97C549.18,323.99 549.44,325.01 549.71,326.03C549.98,327.04 550.26,328.06 550.54,329.07C550.83,330.08 551.11,331.09 551.41,332.1C551.71,333.11 552.01,334.12 552.32,335.12C552.62,336.12 552.94,337.13 553.26,338.12C553.58,339.12 553.91,340.12 554.24,341.11C554.58,342.1 554.92,343.09 555.27,344.08C555.62,345.06 555.97,346.05 556.33,347.03C556.69,348.01 557.06,348.98 557.44,349.95C557.81,350.92 558.2,351.89 558.59,352.86C558.97,353.82 559.37,354.78 559.77,355.73C560.18,356.69 560.59,357.64 561.01,358.59C561.42,359.53 561.85,360.47 562.28,361.41C562.71,362.35 563.15,363.28 563.6,364.2C564.05,365.13 564.5,366.05 564.96,366.97C565.42,367.88 565.89,368.79 566.37,369.7C566.85,370.6 567.33,371.5 567.82,372.39C568.32,373.29 568.82,374.17 569.32,375.05C569.83,375.93 570.35,376.81 570.87,377.68C571.39,378.54 571.92,379.4 572.46,380.26C573,381.11 573.55,381.96 574.1,382.8C574.66,383.64 575.22,384.48 575.79,385.3C576.36,386.13 576.94,386.95 577.53,387.76C578.12,388.57 578.71,389.37 579.32,390.17C579.92,390.96 580.53,391.75 581.15,392.53C581.77,393.31 582.4,394.08 583.04,394.85C583.68,395.61 584.32,396.37 584.98,397.11C585.63,397.86 586.29,398.6 586.96,399.32C587.64,400.05 588.32,400.77 589.01,401.48C589.69,402.19 590.39,402.9 591.1,403.59C591.81,404.28 592.52,404.96 593.25,405.64C593.97,406.31 594.7,406.97 595.44,407.62C596.18,408.28 596.93,408.92 597.69,409.55C598.45,410.18 599.22,410.8 599.99,411.41C600.77,412.02 601.55,412.62 602.34,413.21C603.13,413.8 603.93,414.38 604.74,414.94C605.54,415.51 606.36,416.06 607.18,416.6C608,417.14 608.83,417.67 609.67,418.19C610.51,418.71 611.35,419.21 612.2,419.7C613.05,420.19 613.91,420.67 614.78,421.14C615.65,421.6 616.52,422.06 617.4,422.5C618.28,422.94 619.17,423.36 620.07,423.77C620.96,424.18 621.87,424.58 622.77,424.97C623.68,425.35 624.6,425.72 625.52,426.07C626.44,426.43 627.37,426.77 628.31,427.1C629.24,427.43 630.18,427.74 631.13,428.05C632.08,428.35 633.04,428.64 634,428.91C634.96,429.19 635.92,429.46 636.89,429.71C637.87,429.96 638.85,430.21 639.83,430.44C640.81,430.67 641.8,430.89 642.8,431.1C643.8,431.31 644.8,431.5 645.8,431.69C646.81,431.88 647.82,432.06 648.84,432.23C649.86,432.39 650.88,432.55 651.91,432.7C652.94,432.85 653.97,432.99 655.01,433.12C656.05,433.25 657.09,433.38 658.14,433.49C659.19,433.61 660.24,433.71 661.3,433.81C662.36,433.91 663.42,434 664.49,434.09C665.56,434.17 666.63,434.25 667.7,434.32C668.78,434.39 669.86,434.46 670.95,434.52C672.03,434.58 673.12,434.63 674.21,434.67C675.3,434.72 676.95,434.78 677.5,434.8L677.5,253.5Z"/><path fill="#2fb47c" d="M564.7,253.5C564.73,253.97 564.8,255.38 564.85,256.33C564.91,257.28 564.97,258.23 565.03,259.19C565.1,260.15 565.16,261.11 565.24,262.08C565.31,263.04 565.38,264.01 565.46,264.98C565.54,265.96 565.63,266.93 565.72,267.91C565.81,268.89 565.9,269.88 566,270.87C566.09,271.85 566.2,272.84 566.3,273.84C566.41,274.83 566.52,275.83 566.64,276.82C566.75,277.82 566.87,278.82 567,279.83C567.12,280.83 567.25,281.84 567.39,282.85C567.52,283.85 567.66,284.86 567.81,285.88C567.95,286.89 568.1,287.9 568.26,288.92C568.41,289.93 568.57,290.95 568.74,291.97C568.9,292.98 569.07,294 569.25,295.02C569.42,296.04 569.61,297.07 569.79,298.09C569.98,299.11 570.17,300.13 570.37,301.16C570.56,302.18 570.76,303.2 570.97,304.23C571.18,305.25 571.39,306.27 571.61,307.3C571.83,308.32 572.05,309.34 572.28,310.37C572.51,311.39 572.75,312.41 572.99,313.43C573.23,314.46 573.48,315.48 573.73,316.5C573.99,317.52 574.25,318.54 574.51,319.55C574.78,320.57 575.05,321.59 575.32,322.6C575.6,323.62 575.88,324.63 576.17,325.64C576.46,326.66 576.76,327.67 577.06,328.67C577.36,329.68 577.67,330.69 577.98,331.69C578.3,332.7 578.62,333.7 578.95,334.7C579.27,335.69 579.61,336.69 579.95,337.68C580.29,338.68 580.63,339.67 580.99,340.65C581.34,341.64 581.7,342.62 582.07,343.6C582.43,344.58 582.81,345.56 583.19,346.53C583.57,347.5 583.95,348.47 584.35,349.44C584.74,350.4 585.14,351.37 585.55,352.32C585.96,353.28 586.37,354.23 586.79,355.18C587.22,356.13 587.65,357.07 588.08,358.01C588.52,358.95 588.96,359.88 589.41,360.81C589.86,361.74 590.32,362.66 590.79,363.58C591.25,364.5 591.72,365.41 592.21,366.32C592.69,367.22 593.17,368.12 593.67,369.02C594.16,369.91 594.67,370.8 595.18,371.68C595.69,372.57 596.21,373.44 596.73,374.31C597.26,375.18 597.79,376.05 598.33,376.9C598.87,377.76 599.42,378.61 599.98,379.45C600.54,380.3 601.1,381.13 601.68,381.96C602.25,382.79 602.83,383.61 603.42,384.42C604.01,385.23 604.61,386.04 605.21,386.84C605.82,387.63 606.43,388.42 607.06,389.2C607.68,389.98 608.31,390.75 608.95,391.51C609.59,392.27 610.24,393.02 610.89,393.76C611.55,394.5 612.21,395.24 612.89,395.96C613.56,396.68 614.24,397.39 614.93,398.09C615.62,398.79 616.32,399.48 617.03,400.16C617.74,400.84 618.45,401.5 619.18,402.16C619.9,402.81 620.64,403.46 621.38,404.09C622.12,404.72 622.88,405.34 623.64,405.94C624.4,406.55 625.17,407.14 625.95,407.72C626.73,408.3 627.52,408.87 628.32,409.43C629.12,409.98 629.92,410.52 630.74,411.04C631.56,411.57 632.38,412.08 633.22,412.58C634.05,413.08 634.9,413.56 635.75,414.03C636.61,414.49 637.47,414.95 638.34,415.38C639.22,415.82 640.1,416.24 640.99,416.65C641.89,417.05 642.79,417.44 643.7,417.81C644.61,418.19 645.54,418.54 646.47,418.88C647.4,419.22 648.34,419.54 649.3,419.85C650.25,420.15 651.21,420.44 652.18,420.71C653.15,420.98 654.14,421.23 655.13,421.47C656.12,421.7 657.12,421.91 658.14,422.11C659.15,422.31 660.17,422.48 661.21,422.64C662.24,422.8 663.29,422.94 664.34,423.06C665.39,423.18 666.46,423.28 667.53,423.35C668.61,423.43 669.7,423.49 670.79,423.53C671.89,423.57 673,423.58 674.12,423.58C675.23,423.57 676.94,423.51 677.5,423.5L677.5,253.5Z"/><path fill="#5ec962" d="M589.1,253.5C589.13,253.98 589.23,255.4 589.31,256.36C589.38,257.32 589.45,258.28 589.53,259.25C589.61,260.21 589.69,261.18 589.77,262.16C589.86,263.13 589.95,264.11 590.04,265.09C590.13,266.07 590.22,267.05 590.32,268.04C590.42,269.02 590.52,270.01 590.63,271C590.74,272 590.85,272.99 590.96,273.99C591.08,274.99 591.19,275.99 591.32,276.99C591.44,277.99 591.56,278.99 591.7,280C591.83,281.01 591.96,282.01 592.1,283.02C592.24,284.03 592.38,285.04 592.53,286.06C592.68,287.07 592.84,288.08 592.99,289.1C593.15,290.11 593.32,291.13 593.49,292.14C593.65,293.16 593.83,294.18 594.01,295.19C594.18,296.21 594.37,297.23 594.56,298.25C594.75,299.27 594.94,300.28 595.14,301.3C595.34,302.32 595.55,303.34 595.76,304.35C595.97,305.37 596.19,306.39 596.41,307.4C596.63,308.42 596.86,309.44 597.1,310.45C597.33,311.46 597.57,312.48 597.82,313.49C598.07,314.5 598.32,315.51 598.58,316.52C598.84,317.53 599.11,318.54 599.38,319.54C599.65,320.55 599.93,321.55 600.22,322.55C600.5,323.56 600.79,324.55 601.09,325.55C601.39,326.55 601.7,327.54 602.01,328.53C602.33,329.53 602.65,330.51 602.97,331.5C603.3,332.49 603.64,333.47 603.98,334.45C604.32,335.43 604.67,336.4 605.03,337.38C605.39,338.35 605.75,339.32 606.12,340.28C606.5,341.25 606.88,342.21 607.26,343.16C607.65,344.12 608.05,345.07 608.45,346.02C608.86,346.97 609.27,347.91 609.69,348.85C610.11,349.79 610.54,350.72 610.97,351.65C611.41,352.58 611.86,353.5 612.31,354.42C612.76,355.34 613.23,356.25 613.7,357.16C614.17,358.07 614.65,358.97 615.14,359.86C615.63,360.76 616.12,361.65 616.63,362.53C617.14,363.42 617.65,364.29 618.18,365.16C618.7,366.04 619.24,366.9 619.78,367.76C620.33,368.61 620.88,369.46 621.44,370.31C622,371.15 622.58,371.99 623.16,372.82C623.74,373.64 624.33,374.47 624.93,375.28C625.54,376.09 626.15,376.89 626.77,377.68C627.39,378.48 628.02,379.26 628.66,380.03C629.31,380.8 629.96,381.56 630.62,382.31C631.28,383.06 631.96,383.8 632.64,384.52C633.32,385.25 634.02,385.96 634.72,386.66C635.43,387.35 636.14,388.04 636.87,388.71C637.6,389.37 638.33,390.03 639.08,390.67C639.83,391.3 640.59,391.93 641.36,392.53C642.13,393.14 642.91,393.73 643.71,394.3C644.5,394.87 645.31,395.42 646.12,395.96C646.94,396.49 647.77,397.01 648.61,397.51C649.45,398 650.3,398.48 651.16,398.93C652.03,399.39 652.9,399.83 653.79,400.24C654.68,400.65 655.58,401.04 656.49,401.41C657.4,401.78 658.32,402.13 659.26,402.45C660.2,402.77 661.15,403.07 662.11,403.35C663.07,403.62 664.04,403.87 665.03,404.1C666.02,404.32 667.02,404.52 668.03,404.69C669.04,404.87 670.07,405.01 671.11,405.13C672.15,405.25 673.2,405.34 674.26,405.4C675.33,405.46 676.96,405.48 677.5,405.5L677.5,253.5Z"/><path fill="#9bd93c" d="M616,253.5C616.03,253.97 616.13,255.37 616.2,256.32C616.26,257.27 616.33,258.23 616.4,259.19C616.47,260.16 616.54,261.13 616.62,262.12C616.69,263.1 616.77,264.09 616.85,265.08C616.93,266.08 617.01,267.08 617.1,268.09C617.19,269.1 617.27,270.11 617.37,271.13C617.46,272.15 617.56,273.18 617.66,274.21C617.76,275.24 617.86,276.27 617.97,277.31C618.08,278.35 618.2,279.39 618.32,280.44C618.43,281.48 618.56,282.53 618.69,283.58C618.82,284.63 618.95,285.69 619.09,286.74C619.23,287.8 619.38,288.86 619.53,289.92C619.69,290.98 619.84,292.04 620.01,293.1C620.18,294.16 620.35,295.22 620.53,296.28C620.71,297.34 620.9,298.4 621.09,299.46C621.29,300.52 621.49,301.58 621.7,302.64C621.91,303.7 622.13,304.75 622.35,305.81C622.58,306.86 622.82,307.91 623.06,308.96C623.31,310.01 623.56,311.06 623.82,312.1C624.08,313.14 624.36,314.18 624.64,315.21C624.92,316.25 625.21,317.28 625.51,318.3C625.82,319.32 626.13,320.34 626.45,321.36C626.77,322.37 627.11,323.38 627.45,324.38C627.8,325.38 628.15,326.38 628.52,327.37C628.89,328.35 629.26,329.34 629.66,330.31C630.05,331.28 630.45,332.25 630.86,333.2C631.28,334.16 631.71,335.11 632.15,336.05C632.59,336.99 633.04,337.92 633.51,338.84C633.97,339.76 634.45,340.67 634.95,341.57C635.44,342.47 635.95,343.36 636.47,344.23C636.99,345.11 637.53,345.98 638.08,346.83C638.63,347.68 639.19,348.52 639.77,349.34C640.35,350.17 640.95,350.98 641.56,351.77C642.17,352.56 642.8,353.34 643.44,354.1C644.08,354.86 644.74,355.61 645.41,356.33C646.09,357.06 646.78,357.77 647.48,358.45C648.19,359.14 648.91,359.8 649.66,360.45C650.4,361.09 651.16,361.72 651.93,362.32C652.71,362.92 653.5,363.5 654.31,364.05C655.13,364.6 655.96,365.13 656.81,365.64C657.65,366.14 658.52,366.62 659.41,367.07C660.29,367.52 661.2,367.95 662.12,368.34C663.05,368.74 663.99,369.11 664.96,369.45C665.92,369.79 666.9,370.1 667.91,370.37C668.91,370.65 669.93,370.9 670.98,371.11C672.02,371.33 673.09,371.51 674.18,371.66C675.26,371.81 676.95,371.94 677.5,372L677.5,253.5Z"/><polygon fill="#dfe318" points="666,253.5 666.5,262 667.5,269 669.5,271.5 672,272 677.5,272 677.5,253.5"/></g>
<g fill="none" stroke="#000" stroke-opacity="0.8" stroke-width="1" shape-rendering="crispEdges"><rect x="7.5" y="24.5" width="197" height="191"/><rect x="244.5" y="24.5" width="196" height="191"/><rect x="480.5" y="24.5" width="197" height="191"/><rect x="7.5" y="253.5" width="197" height="192"/><rect x="244.5" y="253.5" width="196" height="192"/><rect x="480.5" y="253.5" width="197" height="192"/></g>
<filter id="gf"><feOffset dx="0" dy="0"/></filter><g filter="url(#gf)" font-family="'DejaVu Sans', 'Liberation Sans', sans-serif" font-size="14.4" fill="#000" text-anchor="middle"><text x="105.94" y="18" textLength="95.53" lengthAdjust="spacingAndGlyphs">Ground Truth</text><text x="342.44" y="18" textLength="144.93" lengthAdjust="spacingAndGlyphs">Training Distribution</text><text x="578.47" y="18" textLength="138.99" lengthAdjust="spacingAndGlyphs">Testing Distribution</text><text x="105.8" y="248" textLength="166.95" lengthAdjust="spacingAndGlyphs">Gradient Boosted Trees</text><text x="341.34" y="248" textLength="31.87" lengthAdjust="spacingAndGlyphs">DNN</text><text x="578.56" y="248" textLength="68.25" lengthAdjust="spacingAndGlyphs">TF Lattice</text></g>
</svg>
</body></html>
